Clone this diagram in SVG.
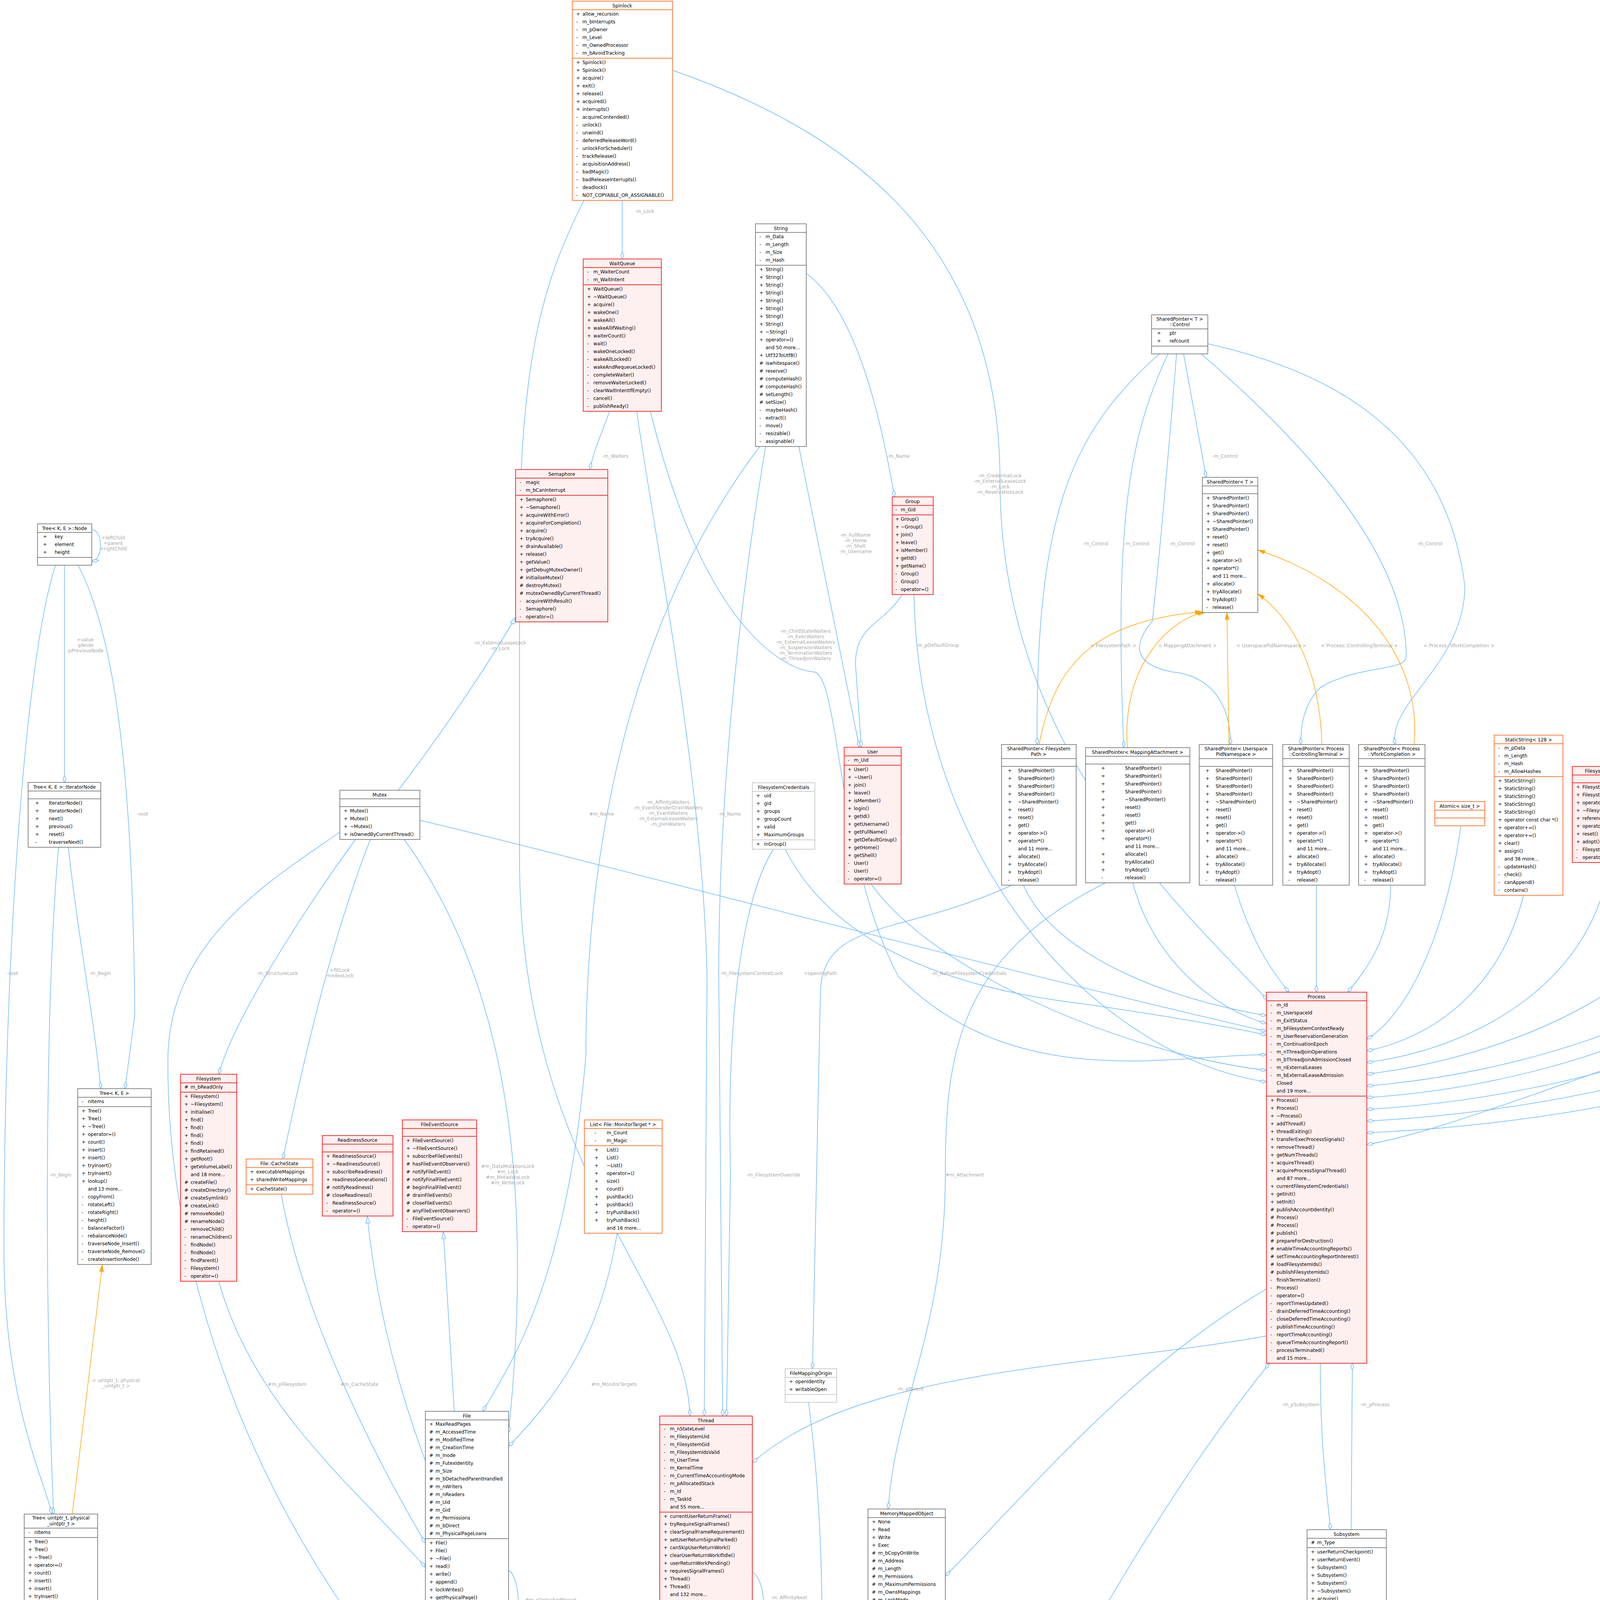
<svg xmlns="http://www.w3.org/2000/svg" width="6348" height="5355" viewBox="0 0 6348 5355">
<style>
text{font-family:"DejaVu Sans","Liberation Sans",sans-serif;font-size:12px;fill:#000}
.c{text-anchor:middle}
.l{fill:#a8a8a8;text-anchor:middle}
.r{fill:#fff;stroke:#666;stroke-width:1.5}
.rl{fill:#fff;stroke:#bdbdbd;stroke-width:1.5}
.ro{fill:#fff;stroke:#ff7f40;stroke-width:2}
.rr{fill:#fff0f0;stroke:#f33;stroke-width:2}
.rg{fill:#999;stroke:#666;stroke-width:1.5}
.e{fill:none;stroke:#63b8ff;stroke-width:1.5}
.ed{fill:none;stroke:#63b8ff;stroke-width:1.5;marker-end:url(#d)}
.et{fill:none;stroke:#63b8ff;stroke-width:1.5;marker-end:url(#t)}
.eo{fill:none;stroke:#ffa500;stroke-width:1.5;marker-end:url(#a)}
</style>
<defs>
<marker id="d" viewBox="0 0 20 10" refX="19" refY="5" markerWidth="20" markerHeight="10" markerUnits="userSpaceOnUse" orient="auto"><path d="M1,5L10,1L19,5L10,9Z" fill="#fff" stroke="#63b8ff" stroke-width="1.5"/></marker>
<marker id="t" viewBox="0 0 20 12" refX="19" refY="6" markerWidth="20" markerHeight="12" markerUnits="userSpaceOnUse" orient="auto"><path d="M1,1L19,6L1,11Z" fill="#fff" stroke="#63b8ff" stroke-width="1.5"/></marker>
<marker id="a" viewBox="0 0 20 12" refX="19" refY="6" markerWidth="20" markerHeight="12" markerUnits="userSpaceOnUse" orient="auto"><path d="M1,1L19,6L1,11Z" fill="#ffa500" stroke="#ffa500"/></marker>
</defs>
<rect width="6348" height="5355" fill="#fff"/>
<g id="connectors">
<path class="ed" d="M1593,513L1593,663"/><text class="l" x="1650" y="545">-m_Lock</text>
<path class="ed" d="M1495,513C1400,700 1330,900 1330,1400L1330,2200C1330,3000 1760,3300 1766,3625"/><text class="l" x="1280" y="1650">-m_ExternalLeaseLock</text><text class="l" x="1280" y="1664">-m_Lock</text>
<path class="ed" d="M1722,180C2150,330 2560,600 2560,1230C2560,1900 3000,2300 3245,2560"/><text class="l" x="2560" y="1222">-m_CredentialLock</text><text class="l" x="2560" y="1236">-m_ExternalLeaseLock</text><text class="l" x="2560" y="1250">-m_Lock</text><text class="l" x="2560" y="1264">-m_ReservationLock</text>
<path class="ed" d="M1560,1053C1545,1100 1520,1150 1510,1202"/><text class="l" x="1575" y="1172">-m_Waiters</text>
<path class="ed" d="M1630,1053C1680,1400 1800,2000 1810,2500L1803,3625"/><text class="l" x="1710" y="2058">-m_AffinityWaiters</text><text class="l" x="1710" y="2072">-m_EventSenderDrainWaiters</text><text class="l" x="1710" y="2086">-m_EventWaiters</text><text class="l" x="1710" y="2100">-m_ExternalLeaseWaiters</text><text class="l" x="1710" y="2114">-m_JoinWaiters</text>
<path class="ed" d="M1665,1053C1800,1600 2000,1710 2080,1720C2150,1710 2140,2200 2300,2500C2600,2800 3000,2700 3242,2700"/><text class="l" x="2062" y="1620">-m_ChildStateWaiters</text><text class="l" x="2062" y="1634">-m_ExecWaiters</text><text class="l" x="2062" y="1648">-m_ExternalLeaseWaiters</text><text class="l" x="2062" y="1662">-m_SuspensionWaiters</text><text class="l" x="2062" y="1676">-m_TerminationWaiters</text><text class="l" x="2062" y="1690">-m_ThreadJoinWaiters</text>
<path class="ed" d="M1960,1143C1900,1500 1840,2000 1840,2500L1850,3625"/><text class="l" x="1868" y="2088">-m_Name</text>
<path class="ed" d="M1945,1143C1600,1600 1500,2200 1500,2700C1450,3300 1300,3500 1236,3613"/><text class="l" x="1540" y="2088">#m_Name</text>
<path class="ed" d="M2045,1143L2200,1913"/><text class="l" x="2190" y="1374">-m_FullName</text><text class="l" x="2190" y="1388">-m_Home</text><text class="l" x="2190" y="1402">-m_Shell</text><text class="l" x="2190" y="1416">-m_Username</text>
<path class="ed" d="M2064,700C2200,800 2260,1100 2290,1272"/><text class="l" x="2300" y="1172">-m_Name</text>
<path class="ed" d="M2310,1522C2260,1600 2190,1600 2190,1700L2205,1913"/><text class="l" x="2400" y="1656">-m_pDefaultGroup</text>
<path class="et" d="M1020,2023C1150,1850 1250,1700 1320,1580"/>
<path class="ed" d="M910,2149C800,2300 600,2600 560,2750"/><text class="l" x="710" y="2496">-m_StructureLock</text>
<path class="ed" d="M948,2149C850,2400 780,2700 724,2967"/><text class="l" x="870" y="2488">+fillLock</text><text class="l" x="870" y="2502">+indexLock</text>
<path class="ed" d="M1035,2149C1250,2450 1380,2900 1302,3668"/><text class="l" x="1300" y="2990">#m_DataMutationLock</text><text class="l" x="1300" y="3004">#m_Lock</text><text class="l" x="1300" y="3018">#m_MetadataLock</text><text class="l" x="1300" y="3032">#m_WriteLock</text>
<path class="ed" d="M870,2130C700,2250 440,2400 430,2700C420,3500 900,4500 1831,4925"/>
<path class="ed" d="M1075,2100C1500,2200 2500,2470 3242,2640"/><text class="l" x="1924" y="2496">-m_FilesystemContextLock</text>
<path class="ed" d="M2010,2174C2100,2350 2300,2500 2700,2560C3000,2600 3200,2640 3242,2650"/><text class="l" x="2480" y="2496">-m_NativeFilesystemCredentials</text>
<path class="ed" d="M1980,2174C1900,2300 1860,2600 1870,3000L1860,3625"/><text class="l" x="1980" y="3012">-m_FilesystemOverride</text>
<path class="ed" d="M2590,2266C2300,2400 2100,2350 2100,2550L2080,3504"/><text class="l" x="2100" y="2496">+openingPath</text>
<path class="ed" d="M2830,2260C2450,2450 2420,2700 2420,3008C2420,3400 2290,3600 2274,3863"/><text class="l" x="2470" y="3012">#m_Attachment</text>
<path class="ed" d="M2070,3590C2110,3900 2120,4300 2072,4670"/><text class="l" x="2130" y="4108">-m_Origin</text>
<path class="ed" d="M1302,4360C1500,4450 1700,4580 1831,4790"/><text class="l" x="1650" y="4632">-m_pBacking</text>
<path class="ed" d="M150,4340C300,4700 1200,4850 1831,4905"/><text class="l" x="330" y="4690">-m_Mappings</text>
<path class="et" d="M2072,4740C2200,4600 2330,4500 2333,4353"/>
<path class="ed" d="M2072,5095C2300,5250 2500,5280 3000,5295L4013,5305"/><text class="l" x="2540" y="5252">+object</text>
<path class="ed" d="M6100,2400C6200,2600 6200,3000 6200,3500L6200,4800C6200,5200 5000,5300 4232,5300"/>
<path class="ed" d="M1926,4023C1962,4050 1966,4150 1926,4182"/><text class="l" x="2020" y="4094">-m_AffinityNext</text><text class="l" x="2020" y="4108">-m_pReadyNext</text><text class="l" x="2020" y="4122">-m_pReadyPrevious</text>
<path class="ed" d="M1926,4330C2050,4500 2200,4650 2305,4850"/><text class="l" x="2135" y="4632">-m_Data</text>
<path class="ed" d="M2452,4835C2700,4300 3000,3800 3250,3490"/><text class="l" x="3185" y="4108">-m_Threads</text>
<path class="ed" d="M3380,3490C3380,3700 3395,3800 3406,3916"/><text class="l" x="3330" y="3600">-m_pSubsystem</text>
<path class="ed" d="M3459,3916L3462,3490"/><text class="l" x="3520" y="3600">-m_pProcess</text>
<path class="ed" d="M3242,3420C2800,3500 2200,3500 1926,3745"/><text class="l" x="2330" y="3560">-m_pParent</text>
<path class="ed" d="M3242,3300C2900,3500 2650,3800 2420,4035"/>
<path class="ed" d="M235,1355C265,1360 265,1432 235,1437"/><text class="l" x="290" y="1381">+leftChild</text><text class="l" x="290" y="1395">+parent</text><text class="l" x="290" y="1409">+rightChild</text>
<path class="ed" d="M165,1447L165,2003"/><text class="l" x="218" y="1642">+value</text><text class="l" x="218" y="1656">-pNode</text><text class="l" x="218" y="1670">-pPreviousNode</text>
<path class="ed" d="M200,1447C280,1600 340,1900 345,2600L320,2787"/><text class="l" x="365" y="2088">-root</text>
<path class="ed" d="M142,1447C60,1700 10,2500 10,3200C10,3600 120,3800 132,3876"/><text class="l" x="32" y="2496">-root</text>
<path class="ed" d="M175,2169C200,2400 240,2600 258,2787"/><text class="l" x="256" y="2496">-m_Begin</text>
<path class="ed" d="M150,2169C120,2500 110,3200 137,3876"/><text class="l" x="155" y="3012">-m_Begin</text>
<path class="eo" d="M185,3876L262,3237"/><text class="l" x="297" y="3538">&lt; uintptr_t, physical</text><text class="l" x="297" y="3552">_uintptr_t &gt;</text>
<path class="ed" d="M560,3280C650,3600 900,3800 1089,4012"/><text class="l" x="735" y="3548">#m_pFilesystem</text>
<path class="ed" d="M720,3057C780,3400 1000,3800 1089,3950"/><text class="l" x="920" y="3548">#m_CacheState</text>
<path class="et" d="M1089,3740C1000,3500 960,3300 940,3113"/>
<path class="et" d="M1163,3613L1135,3153"/>
<path class="ed" d="M1580,3157C1540,3400 1450,3550 1302,3703"/><text class="l" x="1572" y="3548">#m_MonitorTargets</text>
<path class="ed" d="M1302,4020C1335,4040 1335,4170 1302,4183"/><text class="l" x="1410" y="4100">#m_pDetachedParent</text><text class="l" x="1410" y="4114">#m_pParent</text>
<path class="ed" d="M3030,906L3088,1222"/><text class="l" x="3136" y="1172">-m_Control</text>
<path class="ed" d="M2968,906C2750,1100 2650,1300 2655,1906"/><text class="l" x="2805" y="1396">-m_Control</text>
<path class="ed" d="M2990,906C2900,1100 2850,1300 2877,1914"/><text class="l" x="2910" y="1396">-m_Control</text>
<path class="ed" d="M3012,906C2980,1300 2960,1500 2950,1590C2900,1650 2900,1700 3000,1720C3100,1730 3150,1800 3150,1906"/><text class="l" x="3026" y="1396">-m_Control</text>
<path class="ed" d="M3075,906C3300,1100 3600,1400 3600,1680C3600,1720 3480,1700 3380,1760C3340,1800 3330,1850 3330,1906"/>
<path class="ed" d="M3092,880C3400,950 3700,1100 3750,1500C3750,1700 3550,1800 3572,1906"/><text class="l" x="3660" y="1396">-m_Control</text>
<path class="eo" d="M2660,1906C2700,1700 2800,1590 3078,1566"/><text class="l" x="2850" y="1657">&lt; FilesystemPath &gt;</text>
<path class="eo" d="M2886,1914C2870,1700 3000,1580 3085,1568"/><text class="l" x="3040" y="1657">&lt; MappingAttachment &gt;</text>
<path class="eo" d="M3146,1906L3141,1568"/><text class="l" x="3255" y="1657">&lt; UserspacePidNamespace &gt;</text>
<path class="eo" d="M3384,1906C3380,1750 3330,1600 3220,1520"/><text class="l" x="3480" y="1657">&lt; Process::ControllingTerminal &gt;</text>
<path class="eo" d="M3620,1906C3640,1700 3500,1500 3220,1408"/><text class="l" x="3735" y="1657">&lt; Process::VforkCompletion &gt;</text>
<path class="ed" d="M2620,2266C2700,2450 3000,2560 3242,2600"/>
<path class="ed" d="M2900,2260C2950,2450 3100,2580 3242,2620"/>
<path class="ed" d="M3160,2266C3200,2400 3250,2480 3300,2540"/>
<path class="ed" d="M3370,2266C3370,2400 3370,2480 3370,2540"/>
<path class="ed" d="M3560,2266C3560,2400 3500,2480 3450,2540"/>
<path class="ed" d="M3740,2114C3700,2400 3600,2600 3499,2660"/>
<path class="ed" d="M3900,2292C3850,2500 3700,2650 3499,2690"/>
<path class="ed" d="M4120,2208C4080,2500 3800,2680 3499,2720"/>
<path class="ed" d="M4360,2222C4320,2500 3900,2700 3499,2750"/>
<path class="ed" d="M4580,2282C4540,2520 4000,2740 3499,2780"/>
<path class="ed" d="M4770,2113C4700,2500 4100,2770 3499,2810"/>
<path class="ed" d="M4980,2192C4900,2500 4200,2800 3499,2840"/>
<path class="ed" d="M5200,2204C5100,2520 4300,2830 3499,2870"/>
<path class="ed" d="M5420,2158C5300,2540 4400,2860 3499,2900"/>
<path class="ed" d="M5880,2440C5700,2480 5400,2470 5000,2500C4500,2550 3800,2880 3499,2930"/><text class="l" x="5712" y="2478">-m_pAddressSpace</text><text class="l" x="5712" y="2492">-m_pVforkPrivateAddress</text><text class="l" x="5712" y="2506">Space</text>
<path class="ed" d="M2230,2263C2400,2500 2900,2700 3242,2740"/>
<path class="ed" d="M2340,1522C2350,2200 2800,2700 3242,2770"/>
<path class="eo" d="M5870,1955L5877,1517"/><text class="l" x="5830" y="1656">&lt; RawUserMemory::State &gt;</text>
<path class="et" d="M5680,1955C5600,1700 5550,1550 5505,1531"/>
<path class="ed" d="M5985,899L5985,1311"/><text class="l" x="6028" y="1170">-m_Charge</text>
<path class="ed" d="M5985,1481L5987,1722"/><text class="l" x="6075" y="1656">-m_MemoryLockAccount</text>
<path class="ed" d="M6210,1467C6180,1600 6150,1750 6100,1850"/><text class="l" x="6262" y="1656">-m_UserMemoryPolicy</text>
<path class="ed" d="M5750,2215C5800,2400 5850,2650 5860,2837"/><text class="l" x="5850" y="2492">-m_State</text>
<path class="ed" d="M5890,2452C5870,2600 5870,2700 5878,2837"/><text class="l" x="5930" y="2492">-m_Space</text>
<path class="ed" d="M5920,2837C5940,2700 5960,2600 5967,2452"/><text class="l" x="6055" y="2492">-m_RawUserMemory</text>
</g>

<g id="spinlock"><rect class="ro" x="1465" y="3" width="257" height="510"/><text class="c" x="1593" y="19">Spinlock</text><path class="ro" d="M1465 25h257M1465 149h257"/>
<text><tspan x="1475" y="40">+</tspan><tspan x="1475" dy="20">-</tspan><tspan x="1475" dy="20">-</tspan><tspan x="1475" dy="20">-</tspan><tspan x="1475" dy="20">-</tspan><tspan x="1475" dy="20">-</tspan></text>
<text><tspan x="1491" y="40">allow_recursion</tspan><tspan x="1491" dy="20">m_bInterrupts</tspan><tspan x="1491" dy="20">m_pOwner</tspan><tspan x="1491" dy="20">m_Level</tspan><tspan x="1491" dy="20">m_OwnedProcessor</tspan><tspan x="1491" dy="20">m_bAvoidTracking</tspan></text>
<text><tspan x="1475" y="164">+</tspan><tspan x="1475" dy="20">+</tspan><tspan x="1475" dy="20">+</tspan><tspan x="1475" dy="20">+</tspan><tspan x="1475" dy="20">+</tspan><tspan x="1475" dy="20">+</tspan><tspan x="1475" dy="20">+</tspan><tspan x="1475" dy="20">-</tspan><tspan x="1475" dy="20">-</tspan><tspan x="1475" dy="20">-</tspan><tspan x="1475" dy="20">-</tspan><tspan x="1475" dy="20">-</tspan><tspan x="1475" dy="20">-</tspan><tspan x="1475" dy="20">-</tspan><tspan x="1475" dy="20">-</tspan><tspan x="1475" dy="20">-</tspan><tspan x="1475" dy="20">-</tspan><tspan x="1475" dy="20">-</tspan></text>
<text><tspan x="1491" y="164">Spinlock()</tspan><tspan x="1491" dy="20">Spinlock()</tspan><tspan x="1491" dy="20">acquire()</tspan><tspan x="1491" dy="20">exit()</tspan><tspan x="1491" dy="20">release()</tspan><tspan x="1491" dy="20">acquired()</tspan><tspan x="1491" dy="20">interrupts()</tspan><tspan x="1491" dy="20">acquireContended()</tspan><tspan x="1491" dy="20">unlock()</tspan><tspan x="1491" dy="20">unwind()</tspan><tspan x="1491" dy="20">deferredReleaseWord()</tspan><tspan x="1491" dy="20">unlockForScheduler()</tspan><tspan x="1491" dy="20">trackRelease()</tspan><tspan x="1491" dy="20">acquisitionAddress()</tspan><tspan x="1491" dy="20">badMagic()</tspan><tspan x="1491" dy="20">badReleaseInterrupts()</tspan><tspan x="1491" dy="20">deadlock()</tspan><tspan x="1491" dy="20">NOT_COPYABLE_OR_ASSIGNABLE()</tspan></text></g>

<g id="waitqueue"><rect class="rr" x="1493" y="663" width="200" height="390"/><text class="c" x="1593" y="679">WaitQueue</text><path class="rr" d="M1493 685h200M1493 729h200"/>
<text><tspan x="1503" y="700">-</tspan><tspan x="1503" dy="20">-</tspan></text><text><tspan x="1519" y="700">m_WaiterCount</tspan><tspan x="1519" dy="20">m_WaitIntent</tspan></text>
<text><tspan x="1503" y="744">+</tspan><tspan x="1503" dy="20">+</tspan><tspan x="1503" dy="20">+</tspan><tspan x="1503" dy="20">+</tspan><tspan x="1503" dy="20">+</tspan><tspan x="1503" dy="20">+</tspan><tspan x="1503" dy="20">+</tspan><tspan x="1503" dy="20">-</tspan><tspan x="1503" dy="20">-</tspan><tspan x="1503" dy="20">-</tspan><tspan x="1503" dy="20">-</tspan><tspan x="1503" dy="20">-</tspan><tspan x="1503" dy="20">-</tspan><tspan x="1503" dy="20">-</tspan><tspan x="1503" dy="20">-</tspan><tspan x="1503" dy="20">-</tspan></text>
<text><tspan x="1519" y="744">WaitQueue()</tspan><tspan x="1519" dy="20">~WaitQueue()</tspan><tspan x="1519" dy="20">acquire()</tspan><tspan x="1519" dy="20">wakeOne()</tspan><tspan x="1519" dy="20">wakeAll()</tspan><tspan x="1519" dy="20">wakeAllIfWaiting()</tspan><tspan x="1519" dy="20">waiterCount()</tspan><tspan x="1519" dy="20">wait()</tspan><tspan x="1519" dy="20">wakeOneLocked()</tspan><tspan x="1519" dy="20">wakeAllLocked()</tspan><tspan x="1519" dy="20">wakeAndRequeueLocked()</tspan><tspan x="1519" dy="20">completeWaiter()</tspan><tspan x="1519" dy="20">removeWaiterLocked()</tspan><tspan x="1519" dy="20">clearWaitIntentIfEmpty()</tspan><tspan x="1519" dy="20">cancel()</tspan><tspan x="1519" dy="20">publishReady()</tspan></text></g>

<g id="string"><rect class="r" x="1934" y="573" width="130" height="570"/><text class="c" x="1999" y="589">String</text><path class="r" d="M1934 595h130M1934 679h130"/>
<text><tspan x="1944" y="610">-</tspan><tspan x="1944" dy="20">-</tspan><tspan x="1944" dy="20">-</tspan><tspan x="1944" dy="20">-</tspan></text><text><tspan x="1960" y="610">m_Data</tspan><tspan x="1960" dy="20">m_Length</tspan><tspan x="1960" dy="20">m_Size</tspan><tspan x="1960" dy="20">m_Hash</tspan></text>
<text><tspan x="1944" y="694">+</tspan><tspan x="1944" dy="20">+</tspan><tspan x="1944" dy="20">+</tspan><tspan x="1944" dy="20">+</tspan><tspan x="1944" dy="20">+</tspan><tspan x="1944" dy="20">+</tspan><tspan x="1944" dy="20">+</tspan><tspan x="1944" dy="20">+</tspan><tspan x="1944" dy="20">+</tspan><tspan x="1944" dy="20">+</tspan><tspan x="1944" dy="20"> </tspan><tspan x="1944" dy="20">+</tspan><tspan x="1944" dy="20">#</tspan><tspan x="1944" dy="20">#</tspan><tspan x="1944" dy="20">#</tspan><tspan x="1944" dy="20">#</tspan><tspan x="1944" dy="20">#</tspan><tspan x="1944" dy="20">#</tspan><tspan x="1944" dy="20">-</tspan><tspan x="1944" dy="20">-</tspan><tspan x="1944" dy="20">-</tspan><tspan x="1944" dy="20">-</tspan><tspan x="1944" dy="20">-</tspan></text>
<text><tspan x="1960" y="694">String()</tspan><tspan x="1960" dy="20">String()</tspan><tspan x="1960" dy="20">String()</tspan><tspan x="1960" dy="20">String()</tspan><tspan x="1960" dy="20">String()</tspan><tspan x="1960" dy="20">String()</tspan><tspan x="1960" dy="20">String()</tspan><tspan x="1960" dy="20">String()</tspan><tspan x="1960" dy="20">~String()</tspan><tspan x="1960" dy="20">operator=()</tspan><tspan x="1960" dy="20">and 50 more...</tspan><tspan x="1960" dy="20">Utf32ToUtf8()</tspan><tspan x="1960" dy="20">iswhitespace()</tspan><tspan x="1960" dy="20">reserve()</tspan><tspan x="1960" dy="20">computeHash()</tspan><tspan x="1960" dy="20">computeHash()</tspan><tspan x="1960" dy="20">setLength()</tspan><tspan x="1960" dy="20">setSize()</tspan><tspan x="1960" dy="20">maybeHash()</tspan><tspan x="1960" dy="20">extract()</tspan><tspan x="1960" dy="20">move()</tspan><tspan x="1960" dy="20">resizable()</tspan><tspan x="1960" dy="20">assignable()</tspan></text></g>

<g id="semaphore"><rect class="rr" x="1320" y="1202" width="236" height="390"/><text class="c" x="1438" y="1218">Semaphore</text><path class="rr" d="M1320 1224h236M1320 1268h236"/>
<text><tspan x="1330" y="1239">-</tspan><tspan x="1330" dy="20">-</tspan></text><text><tspan x="1346" y="1239">magic</tspan><tspan x="1346" dy="20">m_bCanInterrupt</tspan></text>
<text><tspan x="1330" y="1283">+</tspan><tspan x="1330" dy="20">+</tspan><tspan x="1330" dy="20">+</tspan><tspan x="1330" dy="20">+</tspan><tspan x="1330" dy="20">+</tspan><tspan x="1330" dy="20">+</tspan><tspan x="1330" dy="20">+</tspan><tspan x="1330" dy="20">+</tspan><tspan x="1330" dy="20">+</tspan><tspan x="1330" dy="20">+</tspan><tspan x="1330" dy="20">#</tspan><tspan x="1330" dy="20">#</tspan><tspan x="1330" dy="20">#</tspan><tspan x="1330" dy="20">-</tspan><tspan x="1330" dy="20">-</tspan><tspan x="1330" dy="20">-</tspan></text>
<text><tspan x="1346" y="1283">Semaphore()</tspan><tspan x="1346" dy="20">~Semaphore()</tspan><tspan x="1346" dy="20">acquireWithError()</tspan><tspan x="1346" dy="20">acquireForCompletion()</tspan><tspan x="1346" dy="20">acquire()</tspan><tspan x="1346" dy="20">tryAcquire()</tspan><tspan x="1346" dy="20">drainAvailable()</tspan><tspan x="1346" dy="20">release()</tspan><tspan x="1346" dy="20">getValue()</tspan><tspan x="1346" dy="20">getDebugMutexOwner()</tspan><tspan x="1346" dy="20">initialiseMutex()</tspan><tspan x="1346" dy="20">destroyMutex()</tspan><tspan x="1346" dy="20">mutexOwnedByCurrentThread()</tspan><tspan x="1346" dy="20">acquireWithResult()</tspan><tspan x="1346" dy="20">Semaphore()</tspan><tspan x="1346" dy="20">operator=()</tspan></text></g>

<g id="mutex"><rect class="r" x="870" y="2023" width="205" height="126"/><text class="c" x="972" y="2039">Mutex</text><path class="r" d="M870 2045h205M870 2065h205"/>
<text><tspan x="880" y="2080">+</tspan><tspan x="880" dy="20">+</tspan><tspan x="880" dy="20">+</tspan><tspan x="880" dy="20">+</tspan></text><text><tspan x="896" y="2080">Mutex()</tspan><tspan x="896" dy="20">Mutex()</tspan><tspan x="896" dy="20">~Mutex()</tspan><tspan x="896" dy="20">isOwnedByCurrentThread()</tspan></text></g>

<g id="treenode"><rect class="r" x="96" y="1341" width="139" height="106"/><text class="c" x="165" y="1357">Tree&lt; K, E &gt;::Node</text><path class="r" d="M96 1363h139M96 1427h139"/>
<text><tspan x="110" y="1378">+</tspan><tspan x="110" dy="20">+</tspan><tspan x="110" dy="20">+</tspan></text><text><tspan x="140" y="1378">key</tspan><tspan x="140" dy="20">element</tspan><tspan x="140" dy="20">height</tspan></text></g>

<g id="iteratornode"><rect class="r" x="72" y="2003" width="186" height="166"/><text class="c" x="165" y="2019">Tree&lt; K, E &gt;::IteratorNode</text><path class="r" d="M72 2025h186M72 2045h186"/>
<text><tspan x="90" y="2060">+</tspan><tspan x="90" dy="20">+</tspan><tspan x="90" dy="20">+</tspan><tspan x="90" dy="20">+</tspan><tspan x="90" dy="20">+</tspan><tspan x="90" dy="20">-</tspan></text><text><tspan x="125" y="2060">IteratorNode()</tspan><tspan x="125" dy="20">IteratorNode()</tspan><tspan x="125" dy="20">next()</tspan><tspan x="125" dy="20">previous()</tspan><tspan x="125" dy="20">reset()</tspan><tspan x="125" dy="20">traverseNext()</tspan></text></g>

<g id="tree"><rect class="r" x="199" y="2787" width="188" height="450"/><text class="c" x="293" y="2803">Tree&lt; K, E &gt;</text><path class="r" d="M199 2809h188M199 2833h188"/>
<text x="209" y="2824">-</text><text x="225" y="2824">nItems</text>
<text><tspan x="209" y="2848">+</tspan><tspan x="209" dy="20">+</tspan><tspan x="209" dy="20">+</tspan><tspan x="209" dy="20">+</tspan><tspan x="209" dy="20">+</tspan><tspan x="209" dy="20">+</tspan><tspan x="209" dy="20">+</tspan><tspan x="209" dy="20">+</tspan><tspan x="209" dy="20">+</tspan><tspan x="209" dy="20">+</tspan><tspan x="209" dy="20"> </tspan><tspan x="209" dy="20">-</tspan><tspan x="209" dy="20">-</tspan><tspan x="209" dy="20">-</tspan><tspan x="209" dy="20">-</tspan><tspan x="209" dy="20">-</tspan><tspan x="209" dy="20">-</tspan><tspan x="209" dy="20">-</tspan><tspan x="209" dy="20">-</tspan><tspan x="209" dy="20">-</tspan></text>
<text><tspan x="225" y="2848">Tree()</tspan><tspan x="225" dy="20">Tree()</tspan><tspan x="225" dy="20">~Tree()</tspan><tspan x="225" dy="20">operator=()</tspan><tspan x="225" dy="20">count()</tspan><tspan x="225" dy="20">insert()</tspan><tspan x="225" dy="20">insert()</tspan><tspan x="225" dy="20">tryInsert()</tspan><tspan x="225" dy="20">tryInsert()</tspan><tspan x="225" dy="20">lookup()</tspan><tspan x="225" dy="20">and 13 more...</tspan><tspan x="225" dy="20">copyFrom()</tspan><tspan x="225" dy="20">rotateLeft()</tspan><tspan x="225" dy="20">rotateRight()</tspan><tspan x="225" dy="20">height()</tspan><tspan x="225" dy="20">balanceFactor()</tspan><tspan x="225" dy="20">rebalanceNode()</tspan><tspan x="225" dy="20">traverseNode_Insert()</tspan><tspan x="225" dy="20">traverseNode_Remove()</tspan><tspan x="225" dy="20">createInsertionNode()</tspan></text></g>

<g id="treeuintptr"><rect class="r" x="62" y="3876" width="188" height="464"/><text class="c" x="156" y="3890">Tree&lt; uintptr_t, physical</text><text class="c" x="156" y="3905">_uintptr_t &gt;</text><path class="r" d="M62 3912h188M62 3936h188"/>
<text x="72" y="3927">-</text><text x="88" y="3927">nItems</text>
<text><tspan x="72" y="3951">+</tspan><tspan x="72" dy="20">+</tspan><tspan x="72" dy="20">+</tspan><tspan x="72" dy="20">+</tspan><tspan x="72" dy="20">+</tspan><tspan x="72" dy="20">+</tspan><tspan x="72" dy="20">+</tspan><tspan x="72" dy="20">+</tspan><tspan x="72" dy="20">+</tspan><tspan x="72" dy="20">+</tspan><tspan x="72" dy="20"> </tspan><tspan x="72" dy="20">-</tspan><tspan x="72" dy="20">-</tspan><tspan x="72" dy="20">-</tspan><tspan x="72" dy="20">-</tspan><tspan x="72" dy="20">-</tspan><tspan x="72" dy="20">-</tspan><tspan x="72" dy="20">-</tspan><tspan x="72" dy="20">-</tspan><tspan x="72" dy="20">-</tspan></text>
<text><tspan x="88" y="3951">Tree()</tspan><tspan x="88" dy="20">Tree()</tspan><tspan x="88" dy="20">~Tree()</tspan><tspan x="88" dy="20">operator=()</tspan><tspan x="88" dy="20">count()</tspan><tspan x="88" dy="20">insert()</tspan><tspan x="88" dy="20">insert()</tspan><tspan x="88" dy="20">tryInsert()</tspan><tspan x="88" dy="20">tryInsert()</tspan><tspan x="88" dy="20">lookup()</tspan><tspan x="88" dy="20">and 13 more...</tspan><tspan x="88" dy="20">copyFrom()</tspan><tspan x="88" dy="20">rotateLeft()</tspan><tspan x="88" dy="20">rotateRight()</tspan><tspan x="88" dy="20">height()</tspan><tspan x="88" dy="20">balanceFactor()</tspan><tspan x="88" dy="20">rebalanceNode()</tspan><tspan x="88" dy="20">traverseNode_Insert()</tspan><tspan x="88" dy="20">traverseNode_Remove()</tspan><tspan x="88" dy="20">createInsertionNode()</tspan></text></g>

<g id="filesystem"><rect class="rr" x="462" y="2750" width="144" height="530"/><text class="c" x="534" y="2766">Filesystem</text><path class="rr" d="M462 2772h144M462 2796h144"/>
<text x="472" y="2787">#</text><text x="488" y="2787">m_bReadOnly</text>
<text><tspan x="472" y="2811">+</tspan><tspan x="472" dy="20">+</tspan><tspan x="472" dy="20">+</tspan><tspan x="472" dy="20">+</tspan><tspan x="472" dy="20">+</tspan><tspan x="472" dy="20">+</tspan><tspan x="472" dy="20">+</tspan><tspan x="472" dy="20">+</tspan><tspan x="472" dy="20">+</tspan><tspan x="472" dy="20">+</tspan><tspan x="472" dy="20"> </tspan><tspan x="472" dy="20">#</tspan><tspan x="472" dy="20">#</tspan><tspan x="472" dy="20">#</tspan><tspan x="472" dy="20">#</tspan><tspan x="472" dy="20">#</tspan><tspan x="472" dy="20">#</tspan><tspan x="472" dy="20">-</tspan><tspan x="472" dy="20">-</tspan><tspan x="472" dy="20">-</tspan><tspan x="472" dy="20">-</tspan><tspan x="472" dy="20">-</tspan><tspan x="472" dy="20">-</tspan><tspan x="472" dy="20">-</tspan></text>
<text><tspan x="488" y="2811">Filesystem()</tspan><tspan x="488" dy="20">~Filesystem()</tspan><tspan x="488" dy="20">initialise()</tspan><tspan x="488" dy="20">find()</tspan><tspan x="488" dy="20">find()</tspan><tspan x="488" dy="20">find()</tspan><tspan x="488" dy="20">find()</tspan><tspan x="488" dy="20">findRetained()</tspan><tspan x="488" dy="20">getRoot()</tspan><tspan x="488" dy="20">getVolumeLabel()</tspan><tspan x="488" dy="20">and 18 more...</tspan><tspan x="488" dy="20">createFile()</tspan><tspan x="488" dy="20">createDirectory()</tspan><tspan x="488" dy="20">createSymlink()</tspan><tspan x="488" dy="20">createLink()</tspan><tspan x="488" dy="20">removeNode()</tspan><tspan x="488" dy="20">renameNode()</tspan><tspan x="488" dy="20">removeChild()</tspan><tspan x="488" dy="20">renameChildren()</tspan><tspan x="488" dy="20">findNode()</tspan><tspan x="488" dy="20">findNode()</tspan><tspan x="488" dy="20">findParent()</tspan><tspan x="488" dy="20">Filesystem()</tspan><tspan x="488" dy="20">operator=()</tspan></text></g>

<g id="cachestate"><rect class="ro" x="630" y="2967" width="171" height="90"/><text class="c" x="715" y="2983">File::CacheState</text><path class="ro" d="M630 2989h171M630 3033h171"/>
<text><tspan x="640" y="3004">+</tspan><tspan x="640" dy="20">+</tspan></text><text><tspan x="656" y="3004">executableMappings</tspan><tspan x="656" dy="20">sharedWriteMappings</tspan></text>
<text x="640" y="3048">+</text><text x="656" y="3048">CacheState()</text></g>

<g id="readinesssource"><rect class="rr" x="825" y="2907" width="181" height="206"/><text class="c" x="915" y="2923">ReadinessSource</text><path class="rr" d="M825 2929h181M825 2949h181"/>
<text><tspan x="835" y="2964">+</tspan><tspan x="835" dy="20">+</tspan><tspan x="835" dy="20">+</tspan><tspan x="835" dy="20">+</tspan><tspan x="835" dy="20">#</tspan><tspan x="835" dy="20">#</tspan><tspan x="835" dy="20">-</tspan><tspan x="835" dy="20">-</tspan></text>
<text><tspan x="851" y="2964">ReadinessSource()</tspan><tspan x="851" dy="20">~ReadinessSource()</tspan><tspan x="851" dy="20">subscribeReadiness()</tspan><tspan x="851" dy="20">readinessGenerations()</tspan><tspan x="851" dy="20">notifyReadiness()</tspan><tspan x="851" dy="20">closeReadiness()</tspan><tspan x="851" dy="20">ReadinessSource()</tspan><tspan x="851" dy="20">operator=()</tspan></text></g>

<g id="fileeventsource"><rect class="rr" x="1030" y="2867" width="190" height="286"/><text class="c" x="1125" y="2883">FileEventSource</text><path class="rr" d="M1030 2889h190M1030 2909h190"/>
<text><tspan x="1040" y="2924">+</tspan><tspan x="1040" dy="20">+</tspan><tspan x="1040" dy="20">+</tspan><tspan x="1040" dy="20">#</tspan><tspan x="1040" dy="20">#</tspan><tspan x="1040" dy="20">#</tspan><tspan x="1040" dy="20">#</tspan><tspan x="1040" dy="20">#</tspan><tspan x="1040" dy="20">#</tspan><tspan x="1040" dy="20">#</tspan><tspan x="1040" dy="20">-</tspan><tspan x="1040" dy="20">-</tspan></text>
<text><tspan x="1056" y="2924">FileEventSource()</tspan><tspan x="1056" dy="20">~FileEventSource()</tspan><tspan x="1056" dy="20">subscribeFileEvents()</tspan><tspan x="1056" dy="20">hasFileEventObservers()</tspan><tspan x="1056" dy="20">notifyFileEvent()</tspan><tspan x="1056" dy="20">notifyFinalFileEvent()</tspan><tspan x="1056" dy="20">beginFinalFileEvent()</tspan><tspan x="1056" dy="20">drainFileEvents()</tspan><tspan x="1056" dy="20">closeFileEvents()</tspan><tspan x="1056" dy="20">anyFileEventObservers()</tspan><tspan x="1056" dy="20">FileEventSource()</tspan><tspan x="1056" dy="20">operator=()</tspan></text></g>

<g id="list"><rect class="ro" x="1496" y="2867" width="199" height="290"/><text class="c" x="1595" y="2883">List&lt; File::MonitorTarget * &gt;</text><path class="ro" d="M1496 2889h199M1496 2933h199"/>
<text><tspan x="1522" y="2904">-</tspan><tspan x="1522" dy="20">-</tspan></text><text><tspan x="1553" y="2904">m_Count</tspan><tspan x="1553" dy="20">m_Magic</tspan></text>
<text><tspan x="1522" y="2948">+</tspan><tspan x="1522" dy="20">+</tspan><tspan x="1522" dy="20">+</tspan><tspan x="1522" dy="20">+</tspan><tspan x="1522" dy="20">+</tspan><tspan x="1522" dy="20">+</tspan><tspan x="1522" dy="20">+</tspan><tspan x="1522" dy="20">+</tspan><tspan x="1522" dy="20">+</tspan><tspan x="1522" dy="20">+</tspan></text>
<text><tspan x="1553" y="2948">List()</tspan><tspan x="1553" dy="20">List()</tspan><tspan x="1553" dy="20">~List()</tspan><tspan x="1553" dy="20">operator=()</tspan><tspan x="1553" dy="20">size()</tspan><tspan x="1553" dy="20">count()</tspan><tspan x="1553" dy="20">pushBack()</tspan><tspan x="1553" dy="20">pushBack()</tspan><tspan x="1553" dy="20">tryPushBack()</tspan><tspan x="1553" dy="20">tryPushBack()</tspan><tspan x="1553" dy="20">and 16 more...</tspan></text></g>

<g id="file"><rect class="r" x="1089" y="3613" width="213" height="990"/><text class="c" x="1195" y="3629">File</text><path class="r" d="M1089 3635h213M1089 3939h213"/>
<text><tspan x="1099" y="3650">+</tspan><tspan x="1099" dy="20">#</tspan><tspan x="1099" dy="20">#</tspan><tspan x="1099" dy="20">#</tspan><tspan x="1099" dy="20">#</tspan><tspan x="1099" dy="20">#</tspan><tspan x="1099" dy="20">#</tspan><tspan x="1099" dy="20">#</tspan><tspan x="1099" dy="20">#</tspan><tspan x="1099" dy="20">#</tspan><tspan x="1099" dy="20">#</tspan><tspan x="1099" dy="20">#</tspan><tspan x="1099" dy="20">#</tspan><tspan x="1099" dy="20">#</tspan><tspan x="1099" dy="20">#</tspan></text>
<text><tspan x="1115" y="3650">MaxReadPages</tspan><tspan x="1115" dy="20">m_AccessedTime</tspan><tspan x="1115" dy="20">m_ModifiedTime</tspan><tspan x="1115" dy="20">m_CreationTime</tspan><tspan x="1115" dy="20">m_Inode</tspan><tspan x="1115" dy="20">m_FutexIdentity</tspan><tspan x="1115" dy="20">m_Size</tspan><tspan x="1115" dy="20">m_bDetachedParentHandled</tspan><tspan x="1115" dy="20">m_nWriters</tspan><tspan x="1115" dy="20">m_nReaders</tspan><tspan x="1115" dy="20">m_Uid</tspan><tspan x="1115" dy="20">m_Gid</tspan><tspan x="1115" dy="20">m_Permissions</tspan><tspan x="1115" dy="20">m_bDirect</tspan><tspan x="1115" dy="20">m_PhysicalPageLoans</tspan></text>
<text><tspan x="1099" y="3954">+</tspan><tspan x="1099" dy="20">+</tspan><tspan x="1099" dy="20">+</tspan><tspan x="1099" dy="20">+</tspan><tspan x="1099" dy="20">+</tspan><tspan x="1099" dy="20">+</tspan><tspan x="1099" dy="20">+</tspan><tspan x="1099" dy="20">+</tspan><tspan x="1099" dy="20">+</tspan><tspan x="1099" dy="20">+</tspan><tspan x="1099" dy="20"> </tspan><tspan x="1099" dy="20">#</tspan><tspan x="1099" dy="20">#</tspan><tspan x="1099" dy="20">#</tspan><tspan x="1099" dy="20">#</tspan><tspan x="1099" dy="20">#</tspan><tspan x="1099" dy="20">#</tspan><tspan x="1099" dy="20">#</tspan><tspan x="1099" dy="20">#</tspan><tspan x="1099" dy="20">#</tspan><tspan x="1099" dy="20">#</tspan><tspan x="1099" dy="20"> </tspan><tspan x="1099" dy="20">#</tspan><tspan x="1099" dy="20">#</tspan><tspan x="1099" dy="20">-</tspan><tspan x="1099" dy="20">-</tspan><tspan x="1099" dy="20">-</tspan><tspan x="1099" dy="20">-</tspan><tspan x="1099" dy="20">-</tspan><tspan x="1099" dy="20">-</tspan><tspan x="1099" dy="20">-</tspan><tspan x="1099" dy="20">-</tspan><tspan x="1099" dy="20">-</tspan></text>
<text><tspan x="1115" y="3954">File()</tspan><tspan x="1115" dy="20">File()</tspan><tspan x="1115" dy="20">~File()</tspan><tspan x="1115" dy="20">read()</tspan><tspan x="1115" dy="20">write()</tspan><tspan x="1115" dy="20">append()</tspan><tspan x="1115" dy="20">lockWrites()</tspan><tspan x="1115" dy="20">getPhysicalPage()</tspan><tspan x="1115" dy="20">isDirectPhysicalMapping()</tspan><tspan x="1115" dy="20">returnPhysicalPage()</tspan><tspan x="1115" dy="20">and 80 more...</tspan><tspan x="1115" dy="20">updateAttributes()</tspan><tspan x="1115" dy="20">changeOwnership()</tspan><tspan x="1115" dy="20">allowPhysicalPage()</tspan><tspan x="1115" dy="20">prepareWrite()</tspan><tspan x="1115" dy="20">allowResize()</tspan><tspan x="1115" dy="20">prepareShrink()</tspan><tspan x="1115" dy="20">resizeFile()</tspan><tspan x="1115" dy="20">allocateFileRange()</tspan><tspan x="1115" dy="20">writeSerializationLock()</tspan><tspan x="1115" dy="20">dataMutationLock()</tspan><tspan x="1115" dy="20">and 30 more...</tspan><tspan x="1115" dy="20">writeCallback()</tspan><tspan x="1115" dy="20">fillCacheCallback()</tspan><tspan x="1115" dy="20">File()</tspan><tspan x="1115" dy="20">operator=()</tspan><tspan x="1115" dy="20">publishWriteMetadata()</tspan><tspan x="1115" dy="20">writeUnlocked()</tspan><tspan x="1115" dy="20">getCachedPage()</tspan><tspan x="1115" dy="20">setCachedPage()</tspan><tspan x="1115" dy="20">readIntoCache()</tspan><tspan x="1115" dy="20">populateRangeLocked()</tspan><tspan x="1115" dy="20">releaseReadReference()</tspan></text></g>

<g id="fscredentials"><rect class="rl" x="1926" y="2004" width="160" height="170"/><text class="c" x="2006" y="2020">FilesystemCredentials</text><path class="rl" d="M1926 2026h160M1926 2150h160"/>
<text><tspan x="1936" y="2041">+</tspan><tspan x="1936" dy="20">+</tspan><tspan x="1936" dy="20">+</tspan><tspan x="1936" dy="20">+</tspan><tspan x="1936" dy="20">+</tspan><tspan x="1936" dy="20">+</tspan></text><text><tspan x="1956" y="2041">uid</tspan><tspan x="1956" dy="20">gid</tspan><tspan x="1956" dy="20">groups</tspan><tspan x="1956" dy="20">groupCount</tspan><tspan x="1956" dy="20">valid</tspan><tspan x="1956" dy="20">MaximumGroups</tspan></text>
<text x="1936" y="2165">+</text><text x="1956" y="2165">inGroup()</text></g>

<g id="group"><rect class="rr" x="2284" y="1272" width="105" height="250"/><text class="c" x="2336" y="1288">Group</text><path class="rr" d="M2284 1294h105M2284 1318h105"/>
<text x="2292" y="1309">-</text><text x="2306" y="1309">m_Gid</text>
<text><tspan x="2292" y="1333">+</tspan><tspan x="2292" dy="20">+</tspan><tspan x="2292" dy="20">+</tspan><tspan x="2292" dy="20">+</tspan><tspan x="2292" dy="20">+</tspan><tspan x="2292" dy="20">+</tspan><tspan x="2292" dy="20">+</tspan><tspan x="2292" dy="20">-</tspan><tspan x="2292" dy="20">-</tspan><tspan x="2292" dy="20">-</tspan></text>
<text><tspan x="2306" y="1333">Group()</tspan><tspan x="2306" dy="20">~Group()</tspan><tspan x="2306" dy="20">join()</tspan><tspan x="2306" dy="20">leave()</tspan><tspan x="2306" dy="20">isMember()</tspan><tspan x="2306" dy="20">getId()</tspan><tspan x="2306" dy="20">getName()</tspan><tspan x="2306" dy="20">Group()</tspan><tspan x="2306" dy="20">Group()</tspan><tspan x="2306" dy="20">operator=()</tspan></text></g>

<g id="user"><rect class="rr" x="2161" y="1913" width="146" height="350"/><text class="c" x="2234" y="1929">User</text><path class="rr" d="M2161 1935h146M2161 1959h146"/>
<text x="2170" y="1950">-</text><text x="2186" y="1950">m_Uid</text>
<text><tspan x="2170" y="1974">+</tspan><tspan x="2170" dy="20">+</tspan><tspan x="2170" dy="20">+</tspan><tspan x="2170" dy="20">+</tspan><tspan x="2170" dy="20">+</tspan><tspan x="2170" dy="20">+</tspan><tspan x="2170" dy="20">+</tspan><tspan x="2170" dy="20">+</tspan><tspan x="2170" dy="20">+</tspan><tspan x="2170" dy="20">+</tspan><tspan x="2170" dy="20">+</tspan><tspan x="2170" dy="20">+</tspan><tspan x="2170" dy="20">-</tspan><tspan x="2170" dy="20">-</tspan><tspan x="2170" dy="20">-</tspan></text>
<text><tspan x="2186" y="1974">User()</tspan><tspan x="2186" dy="20">~User()</tspan><tspan x="2186" dy="20">join()</tspan><tspan x="2186" dy="20">leave()</tspan><tspan x="2186" dy="20">isMember()</tspan><tspan x="2186" dy="20">login()</tspan><tspan x="2186" dy="20">getId()</tspan><tspan x="2186" dy="20">getUsername()</tspan><tspan x="2186" dy="20">getFullName()</tspan><tspan x="2186" dy="20">getDefaultGroup()</tspan><tspan x="2186" dy="20">getHome()</tspan><tspan x="2186" dy="20">getShell()</tspan><tspan x="2186" dy="20">User()</tspan><tspan x="2186" dy="20">User()</tspan><tspan x="2186" dy="20">operator=()</tspan></text></g>

<g id="filemappingorigin"><rect class="rl" x="2010" y="3504" width="132" height="86"/><text class="c" x="2076" y="3520">FileMappingOrigin</text><path class="rl" d="M2010 3526h132M2010 3570h132"/>
<text><tspan x="2020" y="3541">+</tspan><tspan x="2020" dy="20">+</tspan></text><text><tspan x="2036" y="3541">openIdentity</tspan><tspan x="2036" dy="20">writableOpen</tspan></text></g>

<g id="thread"><rect class="rr" x="1689" y="3625" width="237" height="970"/><text class="c" x="1807" y="3641">Thread</text><path class="rr" d="M1689 3647h237M1689 3871h237"/>
<text><tspan x="1699" y="3662">-</tspan><tspan x="1699" dy="20">-</tspan><tspan x="1699" dy="20">-</tspan><tspan x="1699" dy="20">-</tspan><tspan x="1699" dy="20">-</tspan><tspan x="1699" dy="20">-</tspan><tspan x="1699" dy="20">-</tspan><tspan x="1699" dy="20">-</tspan><tspan x="1699" dy="20">-</tspan><tspan x="1699" dy="20">-</tspan></text>
<text><tspan x="1715" y="3662">m_nStateLevel</tspan><tspan x="1715" dy="20">m_FilesystemUid</tspan><tspan x="1715" dy="20">m_FilesystemGid</tspan><tspan x="1715" dy="20">m_FilesystemIdsValid</tspan><tspan x="1715" dy="20">m_UserTime</tspan><tspan x="1715" dy="20">m_KernelTime</tspan><tspan x="1715" dy="20">m_CurrentTimeAccountingMode</tspan><tspan x="1715" dy="20">m_pAllocatedStack</tspan><tspan x="1715" dy="20">m_Id</tspan><tspan x="1715" dy="20">m_TaskId</tspan><tspan x="1715" dy="20">and 55 more...</tspan></text>
<text><tspan x="1699" y="3886">+</tspan><tspan x="1699" dy="20">+</tspan><tspan x="1699" dy="20">+</tspan><tspan x="1699" dy="20">+</tspan><tspan x="1699" dy="20">+</tspan><tspan x="1699" dy="20">+</tspan><tspan x="1699" dy="20">+</tspan><tspan x="1699" dy="20">+</tspan><tspan x="1699" dy="20">+</tspan><tspan x="1699" dy="20">+</tspan><tspan x="1699" dy="20"> </tspan><tspan x="1699" dy="20">+</tspan><tspan x="1699" dy="20">#</tspan><tspan x="1699" dy="20">#</tspan><tspan x="1699" dy="20">#</tspan><tspan x="1699" dy="20">#</tspan><tspan x="1699" dy="20">#</tspan><tspan x="1699" dy="20">#</tspan><tspan x="1699" dy="20">#</tspan><tspan x="1699" dy="20">#</tspan><tspan x="1699" dy="20">#</tspan><tspan x="1699" dy="20">#</tspan><tspan x="1699" dy="20"> </tspan><tspan x="1699" dy="20">-</tspan><tspan x="1699" dy="20"> </tspan><tspan x="1699" dy="20">-</tspan><tspan x="1699" dy="20">-</tspan><tspan x="1699" dy="20">-</tspan><tspan x="1699" dy="20">-</tspan><tspan x="1699" dy="20">-</tspan><tspan x="1699" dy="20">-</tspan><tspan x="1699" dy="20">-</tspan><tspan x="1699" dy="20">-</tspan><tspan x="1699" dy="20">-</tspan><tspan x="1699" dy="20"> </tspan><tspan x="1699" dy="20">-</tspan></text>
<text><tspan x="1715" y="3886">currentUserReturnFrame()</tspan><tspan x="1715" dy="20">tryRequireSignalFrames()</tspan><tspan x="1715" dy="20">clearSignalFrameRequirement()</tspan><tspan x="1715" dy="20">setUserReturnSignalParked()</tspan><tspan x="1715" dy="20">canSkipUserReturnWork()</tspan><tspan x="1715" dy="20">clearUserReturnWorkIfIdle()</tspan><tspan x="1715" dy="20">userReturnWorkPending()</tspan><tspan x="1715" dy="20">requiresSignalFrames()</tspan><tspan x="1715" dy="20">Thread()</tspan><tspan x="1715" dy="20">Thread()</tspan><tspan x="1715" dy="20">and 132 more...</tspan><tspan x="1715" dy="20">threadExited()</tspan><tspan x="1715" dy="20">setScheduler()</tspan><tspan x="1715" dy="20">deferEvents()</tspan><tspan x="1715" dy="20">resumeEvents()</tspan><tspan x="1715" dy="20">deferTermination()</tspan><tspan x="1715" dy="20">resumeTermination()</tspan><tspan x="1715" dy="20">markUserReturnWorkFlag()</tspan><tspan x="1715" dy="20">clearUserReturnWorkFlag()</tspan><tspan x="1715" dy="20">markUserReturnWorkPending()</tspan><tspan x="1715" dy="20">registerDeferredScope()</tspan><tspan x="1715" dy="20">armStateCleanup()</tspan><tspan x="1715" dy="20">and 10 more...</tspan><tspan x="1715" dy="20">registerFreshTermination</tspan><tspan x="1715" dy="20">Deferral()</tspan><tspan x="1715" dy="20">Thread()</tspan><tspan x="1715" dy="20">Thread()</tspan><tspan x="1715" dy="20">operator=()</tspan><tspan x="1715" dy="20">publishTimeAccounting()</tspan><tspan x="1715" dy="20">initialisePlacement()</tspan><tspan x="1715" dy="20">publishReadyNotification()</tspan><tspan x="1715" dy="20">cleanStateLevel()</tspan><tspan x="1715" dy="20">beginTemporarySignalMask()</tspan><tspan x="1715" dy="20">finishTemporarySignalMask()</tspan><tspan x="1715" dy="20">and 24 more...</tspan><tspan x="1715" dy="20">discardJoin()</tspan></text></g>

<g id="process"><rect class="rr" x="3242" y="2540" width="257" height="950"/><text class="c" x="3370" y="2556">Process</text><path class="rr" d="M3242 2562h257M3242 2806h257"/>
<text><tspan x="3252" y="2577">-</tspan><tspan x="3252" dy="20">-</tspan><tspan x="3252" dy="20">-</tspan><tspan x="3252" dy="20">-</tspan><tspan x="3252" dy="20">-</tspan><tspan x="3252" dy="20">-</tspan><tspan x="3252" dy="20">-</tspan><tspan x="3252" dy="20">-</tspan><tspan x="3252" dy="20">-</tspan><tspan x="3252" dy="20">-</tspan></text>
<text><tspan x="3268" y="2577">m_Id</tspan><tspan x="3268" dy="20">m_UserspaceId</tspan><tspan x="3268" dy="20">m_ExitStatus</tspan><tspan x="3268" dy="20">m_bFilesystemContextReady</tspan><tspan x="3268" dy="20">m_UserReservationGeneration</tspan><tspan x="3268" dy="20">m_ContinuationEpoch</tspan><tspan x="3268" dy="20">m_nThreadJoinOperations</tspan><tspan x="3268" dy="20">m_bThreadJoinAdmissionClosed</tspan><tspan x="3268" dy="20">m_nExternalLeases</tspan><tspan x="3268" dy="20">m_bExternalLeaseAdmission</tspan><tspan x="3268" dy="20">Closed</tspan><tspan x="3268" dy="20">and 19 more...</tspan></text>
<text><tspan x="3252" y="2821">+</tspan><tspan x="3252" dy="20">+</tspan><tspan x="3252" dy="20">+</tspan><tspan x="3252" dy="20">+</tspan><tspan x="3252" dy="20">+</tspan><tspan x="3252" dy="20">+</tspan><tspan x="3252" dy="20">+</tspan><tspan x="3252" dy="20">+</tspan><tspan x="3252" dy="20">+</tspan><tspan x="3252" dy="20">+</tspan><tspan x="3252" dy="20"> </tspan><tspan x="3252" dy="20">+</tspan><tspan x="3252" dy="20">+</tspan><tspan x="3252" dy="20">+</tspan><tspan x="3252" dy="20">#</tspan><tspan x="3252" dy="20">#</tspan><tspan x="3252" dy="20">#</tspan><tspan x="3252" dy="20">#</tspan><tspan x="3252" dy="20">#</tspan><tspan x="3252" dy="20">#</tspan><tspan x="3252" dy="20">#</tspan><tspan x="3252" dy="20">#</tspan><tspan x="3252" dy="20">#</tspan><tspan x="3252" dy="20">-</tspan><tspan x="3252" dy="20">-</tspan><tspan x="3252" dy="20">-</tspan><tspan x="3252" dy="20">-</tspan><tspan x="3252" dy="20">-</tspan><tspan x="3252" dy="20">-</tspan><tspan x="3252" dy="20">-</tspan><tspan x="3252" dy="20">-</tspan><tspan x="3252" dy="20">-</tspan><tspan x="3252" dy="20">-</tspan></text>
<text><tspan x="3268" y="2821">Process()</tspan><tspan x="3268" dy="20">Process()</tspan><tspan x="3268" dy="20">~Process()</tspan><tspan x="3268" dy="20">addThread()</tspan><tspan x="3268" dy="20">threadExiting()</tspan><tspan x="3268" dy="20">transferExecProcessSignals()</tspan><tspan x="3268" dy="20">removeThread()</tspan><tspan x="3268" dy="20">getNumThreads()</tspan><tspan x="3268" dy="20">acquireThread()</tspan><tspan x="3268" dy="20">acquireProcessSignalThread()</tspan><tspan x="3268" dy="20">and 87 more...</tspan><tspan x="3268" dy="20">currentFilesystemCredentials()</tspan><tspan x="3268" dy="20">getInit()</tspan><tspan x="3268" dy="20">setInit()</tspan><tspan x="3268" dy="20">publishAccountIdentity()</tspan><tspan x="3268" dy="20">Process()</tspan><tspan x="3268" dy="20">Process()</tspan><tspan x="3268" dy="20">publish()</tspan><tspan x="3268" dy="20">prepareForDestruction()</tspan><tspan x="3268" dy="20">enableTimeAccountingReports()</tspan><tspan x="3268" dy="20">setTimeAccountingReportInterest()</tspan><tspan x="3268" dy="20">loadFilesystemIds()</tspan><tspan x="3268" dy="20">publishFilesystemIds()</tspan><tspan x="3268" dy="20">finishTermination()</tspan><tspan x="3268" dy="20">Process()</tspan><tspan x="3268" dy="20">operator=()</tspan><tspan x="3268" dy="20">reportTimesUpdated()</tspan><tspan x="3268" dy="20">drainDeferredTimeAccounting()</tspan><tspan x="3268" dy="20">closeDeferredTimeAccounting()</tspan><tspan x="3268" dy="20">publishTimeAccounting()</tspan><tspan x="3268" dy="20">reportTimeAccounting()</tspan><tspan x="3268" dy="20">queueTimeAccountingReport()</tspan><tspan x="3268" dy="20">processTerminated()</tspan><tspan x="3268" dy="20">and 15 more...</tspan></text></g>

<g id="memorymappedobject"><rect class="r" x="2222" y="3863" width="198" height="490"/><text class="c" x="2321" y="3879">MemoryMappedObject</text><path class="r" d="M2222 3885h198M2222 4109h198"/>
<text><tspan x="2232" y="3900">+</tspan><tspan x="2232" dy="20">+</tspan><tspan x="2232" dy="20">+</tspan><tspan x="2232" dy="20">+</tspan><tspan x="2232" dy="20">#</tspan><tspan x="2232" dy="20">#</tspan><tspan x="2232" dy="20">#</tspan><tspan x="2232" dy="20">#</tspan><tspan x="2232" dy="20">#</tspan><tspan x="2232" dy="20">#</tspan><tspan x="2232" dy="20">#</tspan></text>
<text><tspan x="2248" y="3900">None</tspan><tspan x="2248" dy="20">Read</tspan><tspan x="2248" dy="20">Write</tspan><tspan x="2248" dy="20">Exec</tspan><tspan x="2248" dy="20">m_bCopyOnWrite</tspan><tspan x="2248" dy="20">m_Address</tspan><tspan x="2248" dy="20">m_Length</tspan><tspan x="2248" dy="20">m_Permissions</tspan><tspan x="2248" dy="20">m_MaximumPermissions</tspan><tspan x="2248" dy="20">m_OwnsMappings</tspan><tspan x="2248" dy="20">m_LockMode</tspan></text>
<text><tspan x="2232" y="4124">+</tspan><tspan x="2232" dy="20">+</tspan><tspan x="2232" dy="20">+</tspan><tspan x="2232" dy="20">+</tspan><tspan x="2232" dy="20">+</tspan><tspan x="2232" dy="20">+</tspan><tspan x="2232" dy="20">+</tspan><tspan x="2232" dy="20">+</tspan><tspan x="2232" dy="20">+</tspan><tspan x="2232" dy="20">+</tspan><tspan x="2232" dy="20"> </tspan><tspan x="2232" dy="20">-</tspan></text>
<text><tspan x="2248" y="4124">MemoryMappedObject()</tspan><tspan x="2248" dy="20">~MemoryMappedObject()</tspan><tspan x="2248" dy="20">clone()</tspan><tspan x="2248" dy="20">split()</tspan><tspan x="2248" dy="20">stageSlice()</tspan><tspan x="2248" dy="20">setMappingOwnership()</tspan><tspan x="2248" dy="20">releaseDetachedPage()</tspan><tspan x="2248" dy="20">discardRange()</tspan><tspan x="2248" dy="20">backingFile()</tspan><tspan x="2248" dy="20">backingRangeValid()</tspan><tspan x="2248" dy="20">and 26 more...</tspan><tspan x="2248" dy="20">MemoryMappedObject()</tspan></text></g>

<g id="subsystem"><rect class="r" x="3346" y="3916" width="203" height="390"/><text class="c" x="3447" y="3932">Subsystem</text><path class="r" d="M3346 3938h203M3346 3962h203"/>
<text x="3356" y="3953">#</text><text x="3372" y="3953">m_Type</text>
<text><tspan x="3356" y="3977">+</tspan><tspan x="3356" dy="20">+</tspan><tspan x="3356" dy="20">+</tspan><tspan x="3356" dy="20">+</tspan><tspan x="3356" dy="20">+</tspan><tspan x="3356" dy="20">+</tspan><tspan x="3356" dy="20">+</tspan><tspan x="3356" dy="20">+</tspan><tspan x="3356" dy="20">+</tspan><tspan x="3356" dy="20">+</tspan><tspan x="3356" dy="20"> </tspan><tspan x="3356" dy="20">#</tspan><tspan x="3356" dy="20">#</tspan><tspan x="3356" dy="20"> </tspan><tspan x="3356" dy="20">#</tspan><tspan x="3356" dy="20">#</tspan><tspan x="3356" dy="20">-</tspan></text>
<text><tspan x="3372" y="3977">userReturnCheckpoint()</tspan><tspan x="3372" dy="20">userReturnEvent()</tspan><tspan x="3372" dy="20">Subsystem()</tspan><tspan x="3372" dy="20">Subsystem()</tspan><tspan x="3372" dy="20">Subsystem()</tspan><tspan x="3372" dy="20">~Subsystem()</tspan><tspan x="3372" dy="20">acquire()</tspan><tspan x="3372" dy="20">release()</tspan><tspan x="3372" dy="20">exit()</tspan><tspan x="3372" dy="20">kill()</tspan><tspan x="3372" dy="20">and 8 more...</tspan><tspan x="3372" dy="20">prepareThreadsForExec()</tspan><tspan x="3372" dy="20">preserveProcessSignalsFor</tspan><tspan x="3372" dy="20">ThreadExit()</tspan><tspan x="3372" dy="20">threadExiting()</tspan><tspan x="3372" dy="20">threadRemoved()</tspan><tspan x="3372" dy="20">operator=()</tspan></text></g>

<g id="vector"><rect class="ro" x="2310" y="4761" width="142" height="350"/><text class="c" x="2381" y="4777">Vector&lt; Thread * &gt;</text><path class="ro" d="M2310 4783h142M2310 4867h142"/>
<text><tspan x="2320" y="4798">-</tspan><tspan x="2320" dy="20">-</tspan><tspan x="2320" dy="20">-</tspan><tspan x="2320" dy="20">-</tspan></text><text><tspan x="2336" y="4798">m_Size</tspan><tspan x="2336" dy="20">m_Count</tspan><tspan x="2336" dy="20">m_Start</tspan><tspan x="2336" dy="20">m_ReserveFactor</tspan></text>
<text><tspan x="2320" y="4882">+</tspan><tspan x="2320" dy="20">+</tspan><tspan x="2320" dy="20">+</tspan><tspan x="2320" dy="20">+</tspan><tspan x="2320" dy="20">+</tspan><tspan x="2320" dy="20">+</tspan><tspan x="2320" dy="20">+</tspan><tspan x="2320" dy="20">+</tspan><tspan x="2320" dy="20">+</tspan><tspan x="2320" dy="20">+</tspan><tspan x="2320" dy="20"> </tspan><tspan x="2320" dy="20">-</tspan></text>
<text><tspan x="2336" y="4882">Vector()</tspan><tspan x="2336" dy="20">Vector()</tspan><tspan x="2336" dy="20">Vector()</tspan><tspan x="2336" dy="20">~Vector()</tspan><tspan x="2336" dy="20">operator=()</tspan><tspan x="2336" dy="20">operator[]()</tspan><tspan x="2336" dy="20">operator[]()</tspan><tspan x="2336" dy="20">size()</tspan><tspan x="2336" dy="20">count()</tspan><tspan x="2336" dy="20">pushBack()</tspan><tspan x="2336" dy="20">and 25 more...</tspan><tspan x="2336" dy="20">reserve()</tspan></text></g>

<g id="memorymappedfile"><rect class="r" x="1831" y="4661" width="241" height="550"/><text class="c" x="1951" y="4677">MemoryMappedFile</text><path class="r" d="M1831 4683h241M1831 4827h241"/>
<text><tspan x="1841" y="4698">-</tspan><tspan x="1841" dy="20">-</tspan><tspan x="1841" dy="20">-</tspan><tspan x="1841" dy="20">-</tspan><tspan x="1841" dy="20">-</tspan><tspan x="1841" dy="20">-</tspan><tspan x="1841" dy="20">-</tspan></text>
<text><tspan x="1857" y="4698">m_Offset</tspan><tspan x="1857" dy="20">m_ReadAheadEnd</tspan><tspan x="1857" dy="20">m_ReadAheadPages</tspan><tspan x="1857" dy="20">m_bVfsLease</tspan><tspan x="1857" dy="20">m_ExecutableUse</tspan><tspan x="1857" dy="20">m_SharedWriteUse</tspan><tspan x="1857" dy="20">m_UseAdmitted</tspan></text>
<text><tspan x="1841" y="4842">+</tspan><tspan x="1841" dy="20">+</tspan><tspan x="1841" dy="20">+</tspan><tspan x="1841" dy="20">+</tspan><tspan x="1841" dy="20">+</tspan><tspan x="1841" dy="20">+</tspan><tspan x="1841" dy="20">+</tspan><tspan x="1841" dy="20">+</tspan><tspan x="1841" dy="20">+</tspan><tspan x="1841" dy="20">+</tspan><tspan x="1841" dy="20"> </tspan><tspan x="1841" dy="20">-</tspan><tspan x="1841" dy="20">-</tspan><tspan x="1841" dy="20">-</tspan><tspan x="1841" dy="20">-</tspan><tspan x="1841" dy="20">-</tspan><tspan x="1841" dy="20">-</tspan><tspan x="1841" dy="20">-</tspan><tspan x="1841" dy="20">-</tspan></text>
<text><tspan x="1857" y="4842">MemoryMappedFile()</tspan><tspan x="1857" dy="20">~MemoryMappedFile()</tspan><tspan x="1857" dy="20">clone()</tspan><tspan x="1857" dy="20">split()</tspan><tspan x="1857" dy="20">stageSlice()</tspan><tspan x="1857" dy="20">releaseDetachedPage()</tspan><tspan x="1857" dy="20">discardRange()</tspan><tspan x="1857" dy="20">backingFile()</tspan><tspan x="1857" dy="20">backingRangeValid()</tspan><tspan x="1857" dy="20">resident()</tspan><tspan x="1857" dy="20">and 13 more...</tspan><tspan x="1857" dy="20">unmapUnlocked()</tspan><tspan x="1857" dy="20">getBackingPage()</tspan><tspan x="1857" dy="20">releaseDetachedPageUnlocked()</tspan><tspan x="1857" dy="20">trackMapping()</tspan><tspan x="1857" dy="20">untrackMapping()</tspan><tspan x="1857" dy="20">getMapping()</tspan><tspan x="1857" dy="20">getMappingCount()</tspan><tspan x="1857" dy="20">clearMappings()</tspan></text></g>

<g id="mapping"><rect class="rg" x="4013" y="5269" width="219" height="78"/><text class="c" x="4122" y="5284">MemoryMapManager::Prepared</text><text class="c" x="4122" y="5299">FileResize::Data::Mapping</text><path class="rg" d="M4013 5307h219M4013 5327h219"/></g>

<g id="spcontrol"><rect class="r" x="2948" y="806" width="144" height="100"/><text class="c" x="3020" y="821">SharedPointer&lt; T &gt;</text><text class="c" x="3020" y="835">::Control</text><path class="r" d="M2948 842h144M2948 886h144"/>
<text><tspan x="2962" y="857">+</tspan><tspan x="2962" dy="20">+</tspan></text><text><tspan x="2994" y="857">ptr</tspan><tspan x="2994" dy="20">refcount</tspan></text></g>

<g id="spt"><rect class="r" x="3078" y="1222" width="142" height="346"/><text class="c" x="3149" y="1238">SharedPointer&lt; T &gt;</text><path class="r" d="M3078 1244h142M3078 1264h142"/>
<text><tspan x="3088" y="1279">+</tspan><tspan x="3088" dy="20">+</tspan><tspan x="3088" dy="20">+</tspan><tspan x="3088" dy="20">+</tspan><tspan x="3088" dy="20">+</tspan><tspan x="3088" dy="20">+</tspan><tspan x="3088" dy="20">+</tspan><tspan x="3088" dy="20">+</tspan><tspan x="3088" dy="20">+</tspan><tspan x="3088" dy="20">+</tspan><tspan x="3088" dy="20"> </tspan><tspan x="3088" dy="20">+</tspan><tspan x="3088" dy="20">+</tspan><tspan x="3088" dy="20">+</tspan><tspan x="3088" dy="20">-</tspan></text>
<text><tspan x="3104" y="1279">SharedPointer()</tspan><tspan x="3104" dy="20">SharedPointer()</tspan><tspan x="3104" dy="20">SharedPointer()</tspan><tspan x="3104" dy="20">~SharedPointer()</tspan><tspan x="3104" dy="20">SharedPointer()</tspan><tspan x="3104" dy="20">reset()</tspan><tspan x="3104" dy="20">reset()</tspan><tspan x="3104" dy="20">get()</tspan><tspan x="3104" dy="20">operator-&gt;()</tspan><tspan x="3104" dy="20">operator*()</tspan><tspan x="3104" dy="20">and 11 more...</tspan><tspan x="3104" dy="20">allocate()</tspan><tspan x="3104" dy="20">tryAllocate()</tspan><tspan x="3104" dy="20">tryAdopt()</tspan><tspan x="3104" dy="20">release()</tspan></text></g>

<g id="spfp"><rect class="r" x="2564" y="1906" width="191" height="360"/><text class="c" x="2659" y="1921">SharedPointer&lt; Filesystem</text><text class="c" x="2659" y="1935">Path &gt;</text><path class="r" d="M2564 1942h191M2564 1962h191"/>
<text><tspan x="2580" y="1977">+</tspan><tspan x="2580" dy="20">+</tspan><tspan x="2580" dy="20">+</tspan><tspan x="2580" dy="20">+</tspan><tspan x="2580" dy="20">+</tspan><tspan x="2580" dy="20">+</tspan><tspan x="2580" dy="20">+</tspan><tspan x="2580" dy="20">+</tspan><tspan x="2580" dy="20">+</tspan><tspan x="2580" dy="20">+</tspan><tspan x="2580" dy="20"> </tspan><tspan x="2580" dy="20">+</tspan><tspan x="2580" dy="20">+</tspan><tspan x="2580" dy="20">+</tspan><tspan x="2580" dy="20">-</tspan></text>
<text><tspan x="2606" y="1977">SharedPointer()</tspan><tspan x="2606" dy="20">SharedPointer()</tspan><tspan x="2606" dy="20">SharedPointer()</tspan><tspan x="2606" dy="20">SharedPointer()</tspan><tspan x="2606" dy="20">~SharedPointer()</tspan><tspan x="2606" dy="20">reset()</tspan><tspan x="2606" dy="20">reset()</tspan><tspan x="2606" dy="20">get()</tspan><tspan x="2606" dy="20">operator-&gt;()</tspan><tspan x="2606" dy="20">operator*()</tspan><tspan x="2606" dy="20">and 11 more...</tspan><tspan x="2606" dy="20">allocate()</tspan><tspan x="2606" dy="20">tryAllocate()</tspan><tspan x="2606" dy="20">tryAdopt()</tspan><tspan x="2606" dy="20">release()</tspan></text></g>

<g id="spma"><rect class="r" x="2779" y="1914" width="267" height="346"/><text class="c" x="2912" y="1930">SharedPointer&lt; MappingAttachment &gt;</text><path class="r" d="M2779 1936h267M2779 1956h267"/>
<text><tspan x="2819" y="1971">+</tspan><tspan x="2819" dy="20">+</tspan><tspan x="2819" dy="20">+</tspan><tspan x="2819" dy="20">+</tspan><tspan x="2819" dy="20">+</tspan><tspan x="2819" dy="20">+</tspan><tspan x="2819" dy="20">+</tspan><tspan x="2819" dy="20">+</tspan><tspan x="2819" dy="20">+</tspan><tspan x="2819" dy="20">+</tspan><tspan x="2819" dy="20"> </tspan><tspan x="2819" dy="20">+</tspan><tspan x="2819" dy="20">+</tspan><tspan x="2819" dy="20">+</tspan><tspan x="2819" dy="20">-</tspan></text>
<text><tspan x="2880" y="1971">SharedPointer()</tspan><tspan x="2880" dy="20">SharedPointer()</tspan><tspan x="2880" dy="20">SharedPointer()</tspan><tspan x="2880" dy="20">SharedPointer()</tspan><tspan x="2880" dy="20">~SharedPointer()</tspan><tspan x="2880" dy="20">reset()</tspan><tspan x="2880" dy="20">reset()</tspan><tspan x="2880" dy="20">get()</tspan><tspan x="2880" dy="20">operator-&gt;()</tspan><tspan x="2880" dy="20">operator*()</tspan><tspan x="2880" dy="20">and 11 more...</tspan><tspan x="2880" dy="20">allocate()</tspan><tspan x="2880" dy="20">tryAllocate()</tspan><tspan x="2880" dy="20">tryAdopt()</tspan><tspan x="2880" dy="20">release()</tspan></text></g>

<g id="spupn"><rect class="r" x="3070" y="1906" width="188" height="360"/><text class="c" x="3164" y="1921">SharedPointer&lt; Userspace</text><text class="c" x="3164" y="1935">PidNamespace &gt;</text><path class="r" d="M3070 1942h188M3070 1962h188"/>
<text><tspan x="3086" y="1977">+</tspan><tspan x="3086" dy="20">+</tspan><tspan x="3086" dy="20">+</tspan><tspan x="3086" dy="20">+</tspan><tspan x="3086" dy="20">+</tspan><tspan x="3086" dy="20">+</tspan><tspan x="3086" dy="20">+</tspan><tspan x="3086" dy="20">+</tspan><tspan x="3086" dy="20">+</tspan><tspan x="3086" dy="20">+</tspan><tspan x="3086" dy="20"> </tspan><tspan x="3086" dy="20">+</tspan><tspan x="3086" dy="20">+</tspan><tspan x="3086" dy="20">+</tspan><tspan x="3086" dy="20">-</tspan></text>
<text><tspan x="3112" y="1977">SharedPointer()</tspan><tspan x="3112" dy="20">SharedPointer()</tspan><tspan x="3112" dy="20">SharedPointer()</tspan><tspan x="3112" dy="20">SharedPointer()</tspan><tspan x="3112" dy="20">~SharedPointer()</tspan><tspan x="3112" dy="20">reset()</tspan><tspan x="3112" dy="20">reset()</tspan><tspan x="3112" dy="20">get()</tspan><tspan x="3112" dy="20">operator-&gt;()</tspan><tspan x="3112" dy="20">operator*()</tspan><tspan x="3112" dy="20">and 11 more...</tspan><tspan x="3112" dy="20">allocate()</tspan><tspan x="3112" dy="20">tryAllocate()</tspan><tspan x="3112" dy="20">tryAdopt()</tspan><tspan x="3112" dy="20">release()</tspan></text></g>

<g id="spct"><rect class="r" x="3284" y="1906" width="170" height="360"/><text class="c" x="3369" y="1921">SharedPointer&lt; Process</text><text class="c" x="3369" y="1935">::ControllingTerminal &gt;</text><path class="r" d="M3284 1942h170M3284 1962h170"/>
<text><tspan x="3298" y="1977">+</tspan><tspan x="3298" dy="20">+</tspan><tspan x="3298" dy="20">+</tspan><tspan x="3298" dy="20">+</tspan><tspan x="3298" dy="20">+</tspan><tspan x="3298" dy="20">+</tspan><tspan x="3298" dy="20">+</tspan><tspan x="3298" dy="20">+</tspan><tspan x="3298" dy="20">+</tspan><tspan x="3298" dy="20">+</tspan><tspan x="3298" dy="20"> </tspan><tspan x="3298" dy="20">+</tspan><tspan x="3298" dy="20">+</tspan><tspan x="3298" dy="20">+</tspan><tspan x="3298" dy="20">-</tspan></text>
<text><tspan x="3320" y="1977">SharedPointer()</tspan><tspan x="3320" dy="20">SharedPointer()</tspan><tspan x="3320" dy="20">SharedPointer()</tspan><tspan x="3320" dy="20">SharedPointer()</tspan><tspan x="3320" dy="20">~SharedPointer()</tspan><tspan x="3320" dy="20">reset()</tspan><tspan x="3320" dy="20">reset()</tspan><tspan x="3320" dy="20">get()</tspan><tspan x="3320" dy="20">operator-&gt;()</tspan><tspan x="3320" dy="20">operator*()</tspan><tspan x="3320" dy="20">and 11 more...</tspan><tspan x="3320" dy="20">allocate()</tspan><tspan x="3320" dy="20">tryAllocate()</tspan><tspan x="3320" dy="20">tryAdopt()</tspan><tspan x="3320" dy="20">release()</tspan></text></g>

<g id="spvc"><rect class="r" x="3478" y="1906" width="170" height="360"/><text class="c" x="3563" y="1921">SharedPointer&lt; Process</text><text class="c" x="3563" y="1935">::VforkCompletion &gt;</text><path class="r" d="M3478 1942h170M3478 1962h170"/>
<text><tspan x="3492" y="1977">+</tspan><tspan x="3492" dy="20">+</tspan><tspan x="3492" dy="20">+</tspan><tspan x="3492" dy="20">+</tspan><tspan x="3492" dy="20">+</tspan><tspan x="3492" dy="20">+</tspan><tspan x="3492" dy="20">+</tspan><tspan x="3492" dy="20">+</tspan><tspan x="3492" dy="20">+</tspan><tspan x="3492" dy="20">+</tspan><tspan x="3492" dy="20"> </tspan><tspan x="3492" dy="20">+</tspan><tspan x="3492" dy="20">+</tspan><tspan x="3492" dy="20">+</tspan><tspan x="3492" dy="20">-</tspan></text>
<text><tspan x="3514" y="1977">SharedPointer()</tspan><tspan x="3514" dy="20">SharedPointer()</tspan><tspan x="3514" dy="20">SharedPointer()</tspan><tspan x="3514" dy="20">SharedPointer()</tspan><tspan x="3514" dy="20">~SharedPointer()</tspan><tspan x="3514" dy="20">reset()</tspan><tspan x="3514" dy="20">reset()</tspan><tspan x="3514" dy="20">get()</tspan><tspan x="3514" dy="20">operator-&gt;()</tspan><tspan x="3514" dy="20">operator*()</tspan><tspan x="3514" dy="20">and 11 more...</tspan><tspan x="3514" dy="20">allocate()</tspan><tspan x="3514" dy="20">tryAllocate()</tspan><tspan x="3514" dy="20">tryAdopt()</tspan><tspan x="3514" dy="20">release()</tspan></text></g>

<g id="atomic"><rect class="ro" x="3673" y="2052" width="128" height="62"/><text class="c" x="3737" y="2068">Atomic&lt; size_t &gt;</text><path class="ro" d="M3673 2074h128M3673 2094h128"/></g>

<g id="staticstring"><rect class="ro" x="3825" y="1882" width="176" height="410"/><text class="c" x="3913" y="1898">StaticString&lt; 128 &gt;</text><path class="ro" d="M3825 1904h176M3825 1988h176"/>
<text><tspan x="3835" y="1919">-</tspan><tspan x="3835" dy="20">-</tspan><tspan x="3835" dy="20">-</tspan><tspan x="3835" dy="20">-</tspan></text><text><tspan x="3851" y="1919">m_pData</tspan><tspan x="3851" dy="20">m_Length</tspan><tspan x="3851" dy="20">m_Hash</tspan><tspan x="3851" dy="20">m_AllowHashes</tspan></text>
<text><tspan x="3835" y="2003">+</tspan><tspan x="3835" dy="20">+</tspan><tspan x="3835" dy="20">+</tspan><tspan x="3835" dy="20">+</tspan><tspan x="3835" dy="20">+</tspan><tspan x="3835" dy="20">+</tspan><tspan x="3835" dy="20">+</tspan><tspan x="3835" dy="20">+</tspan><tspan x="3835" dy="20">+</tspan><tspan x="3835" dy="20">+</tspan><tspan x="3835" dy="20"> </tspan><tspan x="3835" dy="20">-</tspan><tspan x="3835" dy="20">-</tspan><tspan x="3835" dy="20">-</tspan><tspan x="3835" dy="20">-</tspan></text>
<text><tspan x="3851" y="2003">StaticString()</tspan><tspan x="3851" dy="20">StaticString()</tspan><tspan x="3851" dy="20">StaticString()</tspan><tspan x="3851" dy="20">StaticString()</tspan><tspan x="3851" dy="20">StaticString()</tspan><tspan x="3851" dy="20">operator const char *()</tspan><tspan x="3851" dy="20">operator+=()</tspan><tspan x="3851" dy="20">operator+=()</tspan><tspan x="3851" dy="20">clear()</tspan><tspan x="3851" dy="20">assign()</tspan><tspan x="3851" dy="20">and 38 more...</tspan><tspan x="3851" dy="20">updateHash()</tspan><tspan x="3851" dy="20">check()</tspan><tspan x="3851" dy="20">canAppend()</tspan><tspan x="3851" dy="20">contains()</tspan></text></g>

<g id="fscontextowner"><rect class="rr" x="4025" y="1962" width="214" height="246"/><text class="c" x="4132" y="1978">FilesystemContextOwner</text><path class="rr" d="M4025 1984h214M4025 2004h214"/>
<text><tspan x="4035" y="2019">+</tspan><tspan x="4035" dy="20">+</tspan><tspan x="4035" dy="20">+</tspan><tspan x="4035" dy="20">+</tspan><tspan x="4035" dy="20">+</tspan><tspan x="4035" dy="20">+</tspan><tspan x="4035" dy="20">+</tspan><tspan x="4035" dy="20">+</tspan><tspan x="4035" dy="20">-</tspan><tspan x="4035" dy="20">-</tspan></text>
<text><tspan x="4051" y="2019">FilesystemContextOwner()</tspan><tspan x="4051" dy="20">FilesystemContextOwner()</tspan><tspan x="4051" dy="20">operator=()</tspan><tspan x="4051" dy="20">~FilesystemContextOwner()</tspan><tspan x="4051" dy="20">reference()</tspan><tspan x="4051" dy="20">operator bool()</tspan><tspan x="4051" dy="20">reset()</tspan><tspan x="4051" dy="20">adopt()</tspan><tspan x="4051" dy="20">FilesystemContextOwner()</tspan><tspan x="4051" dy="20">operator=()</tspan></text></g>

<g id="rangelist"><rect class="ro" x="4263" y="1952" width="207" height="270"/><text class="c" x="4366" y="1968">RangeList&lt; uintptr_t &gt;</text><path class="ro" d="M4263 1974h207M4263 1998h207"/>
<text x="4273" y="1989">-</text><text x="4289" y="1989">m_bPreferUsed</text>
<text><tspan x="4273" y="2013">+</tspan><tspan x="4273" dy="20">+</tspan><tspan x="4273" dy="20">+</tspan><tspan x="4273" dy="20">+</tspan><tspan x="4273" dy="20">+</tspan><tspan x="4273" dy="20">+</tspan><tspan x="4273" dy="20">+</tspan><tspan x="4273" dy="20">+</tspan><tspan x="4273" dy="20">+</tspan><tspan x="4273" dy="20">+</tspan></text>
<text><tspan x="4289" y="2013">RangeList()</tspan><tspan x="4289" dy="20">RangeList()</tspan><tspan x="4289" dy="20">RangeList()</tspan><tspan x="4289" dy="20">RangeList()</tspan><tspan x="4289" dy="20">~RangeList()</tspan><tspan x="4289" dy="20">operator=()</tspan><tspan x="4289" dy="20">free()</tspan><tspan x="4289" dy="20">tryFree()</tspan><tspan x="4289" dy="20">freeWithoutAllocation()</tspan><tspan x="4289" dy="20">allocateWithoutAllocation()</tspan><tspan x="4289" dy="20">and 9 more...</tspan></text></g>

<g id="dynamiclinker"><rect class="rr" x="4494" y="1892" width="169" height="390"/><text class="c" x="4578" y="1908">DynamicLinker</text><path class="rr" d="M4494 1914h169M4494 1978h169"/>
<text><tspan x="4504" y="1929">-</tspan><tspan x="4504" dy="20">-</tspan><tspan x="4504" dy="20">-</tspan></text><text><tspan x="4520" y="1929">m_ProgramStart</tspan><tspan x="4520" dy="20">m_ProgramSize</tspan><tspan x="4520" dy="20">m_ProgramBuffer</tspan></text>
<text><tspan x="4504" y="1993">+</tspan><tspan x="4504" dy="20">+</tspan><tspan x="4504" dy="20">+</tspan><tspan x="4504" dy="20">+</tspan><tspan x="4504" dy="20">+</tspan><tspan x="4504" dy="20">+</tspan><tspan x="4504" dy="20">+</tspan><tspan x="4504" dy="20">+</tspan><tspan x="4504" dy="20">+</tspan><tspan x="4504" dy="20">+</tspan><tspan x="4504" dy="20">+</tspan><tspan x="4504" dy="20">-</tspan><tspan x="4504" dy="20">-</tspan><tspan x="4504" dy="20">-</tspan><tspan x="4504" dy="20">-</tspan></text>
<text><tspan x="4520" y="1993">DynamicLinker()</tspan><tspan x="4520" dy="20">~DynamicLinker()</tspan><tspan x="4520" dy="20">DynamicLinker()</tspan><tspan x="4520" dy="20">checkInterpreter()</tspan><tspan x="4520" dy="20">checkDependencies()</tspan><tspan x="4520" dy="20">loadProgram()</tspan><tspan x="4520" dy="20">loadObject()</tspan><tspan x="4520" dy="20">trap()</tspan><tspan x="4520" dy="20">getProgramElf()</tspan><tspan x="4520" dy="20">resolve()</tspan><tspan x="4520" dy="20">resolvePlt()</tspan><tspan x="4520" dy="20">operator=()</tspan><tspan x="4520" dy="20">resolvePltSymbol()</tspan><tspan x="4520" dy="20">initPlt()</tspan><tspan x="4520" dy="20">loadDemandPage()</tspan></text></g>

<g id="childtransition"><rect class="rl" x="4688" y="2023" width="168" height="90"/><text class="c" x="4772" y="2039">Process::ChildTransition</text><path class="rl" d="M4688 2045h168M4688 2089h168"/>
<text><tspan x="4702" y="2060">+</tspan><tspan x="4702" dy="20">+</tspan></text><text><tspan x="4722" y="2060">kind</tspan><tspan x="4722" dy="20">stopSignal</tspan></text>
<text x="4702" y="2104">+</text><text x="4722" y="2104">ChildTransition()</text></g>

<g id="processmetadata"><rect class="r" x="4880" y="1962" width="202" height="230"/><text class="c" x="4981" y="1978">Process::ProcessMetadata</text><path class="r" d="M4880 1984h202M4880 2168h202"/>
<text><tspan x="4890" y="1999">+</tspan><tspan x="4890" dy="20">+</tspan><tspan x="4890" dy="20">+</tspan><tspan x="4890" dy="20">+</tspan><tspan x="4890" dy="20">+</tspan><tspan x="4890" dy="20">+</tspan><tspan x="4890" dy="20">+</tspan><tspan x="4890" dy="20">+</tspan><tspan x="4890" dy="20">+</tspan></text>
<text><tspan x="4906" y="1999">heapUsage</tspan><tspan x="4906" dy="20">virtualPages</tspan><tspan x="4906" dy="20">physicalPages</tspan><tspan x="4906" dy="20">sharedPages</tspan><tspan x="4906" dy="20">userTime</tspan><tspan x="4906" dy="20">kernelTime</tspan><tspan x="4906" dy="20">reapedChildrenUserTime</tspan><tspan x="4906" dy="20">reapedChildrenKernelTime</tspan><tspan x="4906" dy="20">startTime</tspan></text>
<text x="4890" y="2183">+</text><text x="4906" y="2183">ProcessMetadata()</text></g>

<g id="percpu"><rect class="rl" x="5106" y="1954" width="201" height="250"/><text class="c" x="5206" y="1970">PerCpuTimeAccounting</text><path class="rl" d="M5106 1976h201M5106 2060h201"/>
<text><tspan x="5116" y="1991">-</tspan><tspan x="5116" dy="20">-</tspan><tspan x="5116" dy="20">-</tspan><tspan x="5116" dy="20">-</tspan></text><text><tspan x="5132" y="1991">m_Storage</tspan><tspan x="5132" dy="20">m_Slots</tspan><tspan x="5132" dy="20">m_Count</tspan><tspan x="5132" dy="20">SlotSize</tspan></text>
<text><tspan x="5116" y="2075">+</tspan><tspan x="5116" dy="20">+</tspan><tspan x="5116" dy="20">+</tspan><tspan x="5116" dy="20">+</tspan><tspan x="5116" dy="20">-</tspan><tspan x="5116" dy="20">-</tspan><tspan x="5116" dy="20">-</tspan></text>
<text><tspan x="5132" y="2075">PerCpuTimeAccounting()</tspan><tspan x="5132" dy="20">~PerCpuTimeAccounting()</tspan><tspan x="5132" dy="20">add()</tspan><tspan x="5132" dy="20">total()</tspan><tspan x="5132" dy="20">slot()</tspan><tspan x="5132" dy="20">PerCpuTimeAccounting()</tspan><tspan x="5132" dy="20">operator=()</tspan></text></g>

<g id="deferred"><rect class="r" x="5332" y="1988" width="201" height="170"/><text class="c" x="5432" y="2004">DeferredTimeAccounting</text><path class="r" d="M5332 2010h201M5332 2034h201"/>
<text x="5342" y="2025">-</text><text x="5358" y="2025">m_Pending</text>
<text><tspan x="5342" y="2049">+</tspan><tspan x="5342" dy="20">+</tspan><tspan x="5342" dy="20">+</tspan><tspan x="5342" dy="20">+</tspan><tspan x="5342" dy="20">-</tspan><tspan x="5342" dy="20">-</tspan></text>
<text><tspan x="5358" y="2049">DeferredTimeAccounting()</tspan><tspan x="5358" dy="20">publish()</tspan><tspan x="5358" dy="20">take()</tspan><tspan x="5358" dy="20">pending()</tspan><tspan x="5358" dy="20">DeferredTimeAccounting()</tspan><tspan x="5358" dy="20">operator=()</tspan></text></g>

<g id="memorylockcharge"><rect class="rl" x="5913" y="813" width="144" height="86"/><text class="c" x="5985" y="829">MemoryLockCharge</text><path class="rl" d="M5913 835h144M5913 879h144"/>
<text><tspan x="5923" y="850">+</tspan><tspan x="5923" dy="20">+</tspan></text><text><tspan x="5943" y="850">managedPages</tspan><tspan x="5943" dy="20">rawPages</tspan></text></g>

<g id="uniquecommon"><rect class="rl" x="5324" y="1261" width="255" height="270"/><text class="c" x="5451" y="1277">UniqueCommon&lt; T &gt;</text><path class="rl" d="M5324 1283h255M5324 1307h255"/>
<text x="5334" y="1298">#</text><text x="5350" y="1298">m_Pointer</text>
<text><tspan x="5334" y="1322">+</tspan><tspan x="5334" dy="20">+</tspan><tspan x="5334" dy="20">+</tspan><tspan x="5334" dy="20">+</tspan><tspan x="5334" dy="20">+</tspan><tspan x="5334" dy="20">+</tspan><tspan x="5334" dy="20">+</tspan><tspan x="5334" dy="20">#</tspan><tspan x="5334" dy="20">#</tspan><tspan x="5334" dy="20">#</tspan><tspan x="5334" dy="20">#</tspan></text>
<text><tspan x="5350" y="1322">UniqueCommon()</tspan><tspan x="5350" dy="20">~UniqueCommon()</tspan><tspan x="5350" dy="20">operator*()</tspan><tspan x="5350" dy="20">operator void *()</tspan><tspan x="5350" dy="20">get()</tspan><tspan x="5350" dy="20">reset()</tspan><tspan x="5350" dy="20">NOT_COPYABLE_OR_ASSIGNABLE()</tspan><tspan x="5350" dy="20">UniqueCommon()</tspan><tspan x="5350" dy="20">destroy()</tspan><tspan x="5350" dy="20">setPointer()</tspan><tspan x="5350" dy="20">release()</tspan></text></g>

<g id="uniquepointer"><rect class="rr" x="5604" y="1271" width="255" height="246"/><text class="c" x="5731" y="1287">UniquePointer&lt; T &gt;</text><path class="rr" d="M5604 1293h255M5604 1313h255"/>
<text><tspan x="5614" y="1328">+</tspan><tspan x="5614" dy="20">+</tspan><tspan x="5614" dy="20">+</tspan><tspan x="5614" dy="20">+</tspan><tspan x="5614" dy="20">+</tspan><tspan x="5614" dy="20">+</tspan><tspan x="5614" dy="20">+</tspan><tspan x="5614" dy="20">+</tspan><tspan x="5614" dy="20">-</tspan><tspan x="5614" dy="20">-</tspan></text>
<text><tspan x="5630" y="1328">UniquePointer()</tspan><tspan x="5630" dy="20">~UniquePointer()</tspan><tspan x="5630" dy="20">UniquePointer()</tspan><tspan x="5630" dy="20">NOT_COPYABLE_OR_ASSIGNABLE()</tspan><tspan x="5630" dy="20">operator=()</tspan><tspan x="5630" dy="20">releaseOwnership()</tspan><tspan x="5630" dy="20">adopt()</tspan><tspan x="5630" dy="20">allocate()</tspan><tspan x="5630" dy="20">UniquePointer()</tspan><tspan x="5630" dy="20">move_from()</tspan></text></g>

<g id="memorylockaccount"><rect class="r" x="5892" y="1311" width="186" height="170"/><text class="c" x="5985" y="1327">MemoryLockAccount</text><path class="r" d="M5892 1333h186M5892 1357h186"/>
<text x="5902" y="1348">-</text><text x="5918" y="1348">m_Future</text>
<text><tspan x="5902" y="1372">+</tspan><tspan x="5902" dy="20">+</tspan><tspan x="5902" dy="20">+</tspan><tspan x="5902" dy="20">+</tspan><tspan x="5902" dy="20">+</tspan><tspan x="5902" dy="20">+</tspan></text>
<text><tspan x="5918" y="1372">~MemoryLockAccount()</tspan><tspan x="5918" dy="20">permitsTotalPages()</tspan><tspan x="5918" dy="20">permitsLocking()</tspan><tspan x="5918" dy="20">charge()</tspan><tspan x="5918" dy="20">futureMode()</tspan><tspan x="5918" dy="20">publish()</tspan></text></g>

<g id="usermemorypolicy"><rect class="r" x="6102" y="1321" width="241" height="146"/><text class="c" x="6222" y="1337">UserMemoryPolicy</text><path class="r" d="M6102 1343h241M6102 1363h241"/>
<text><tspan x="6112" y="1378">+</tspan><tspan x="6112" dy="20">+</tspan><tspan x="6112" dy="20">+</tspan><tspan x="6112" dy="20">+</tspan><tspan x="6112" dy="20">+</tspan></text>
<text><tspan x="6128" y="1378">~UserMemoryPolicy()</tspan><tspan x="6128" dy="20">callerHasMemoryLockPrivilege()</tspan><tspan x="6128" dy="20">overlapsManagedMemory()</tspan><tspan x="6128" dy="20">enterOperation()</tspan><tspan x="6128" dy="20">leaveOperation()</tspan></text></g>

<g id="uprum"><rect class="r" x="5600" y="1955" width="256" height="260"/><text class="c" x="5728" y="1970">UniquePointer&lt; RawUserMemory</text><text class="c" x="5728" y="1984">::State &gt;</text><path class="r" d="M5600 1991h256M5600 2011h256"/>
<text><tspan x="5610" y="2026">+</tspan><tspan x="5610" dy="20">+</tspan><tspan x="5610" dy="20">+</tspan><tspan x="5610" dy="20">+</tspan><tspan x="5610" dy="20">+</tspan><tspan x="5610" dy="20">+</tspan><tspan x="5610" dy="20">+</tspan><tspan x="5610" dy="20">+</tspan><tspan x="5610" dy="20">-</tspan><tspan x="5610" dy="20">-</tspan></text>
<text><tspan x="5626" y="2026">UniquePointer()</tspan><tspan x="5626" dy="20">UniquePointer()</tspan><tspan x="5626" dy="20">~UniquePointer()</tspan><tspan x="5626" dy="20">NOT_COPYABLE_OR_ASSIGNABLE()</tspan><tspan x="5626" dy="20">operator=()</tspan><tspan x="5626" dy="20">releaseOwnership()</tspan><tspan x="5626" dy="20">adopt()</tspan><tspan x="5626" dy="20">allocate()</tspan><tspan x="5626" dy="20">UniquePointer()</tspan><tspan x="5626" dy="20">move_from()</tspan></text></g>

<g id="vas"><rect class="r" x="5880" y="1722" width="220" height="730"/><text class="c" x="5990" y="1738">VirtualAddressSpace</text><path class="r" d="M5880 1744h220M5880 2028h220"/>
<text><tspan x="5890" y="1759">+</tspan><tspan x="5890" dy="20">+</tspan><tspan x="5890" dy="20">+</tspan><tspan x="5890" dy="20">+</tspan><tspan x="5890" dy="20">+</tspan><tspan x="5890" dy="20">+</tspan><tspan x="5890" dy="20">+</tspan><tspan x="5890" dy="20">+</tspan><tspan x="5890" dy="20">+</tspan><tspan x="5890" dy="20">+</tspan><tspan x="5890" dy="20">+</tspan><tspan x="5890" dy="20">+</tspan><tspan x="5890" dy="20"> </tspan><tspan x="5890" dy="20">#</tspan></text>
<text><tspan x="5906" y="1759">m_Heap</tspan><tspan x="5906" dy="20">m_HeapEnd</tspan><tspan x="5906" dy="20">KernelMode</tspan><tspan x="5906" dy="20">Write</tspan><tspan x="5906" dy="20">Execute</tspan><tspan x="5906" dy="20">WriteThrough</tspan><tspan x="5906" dy="20">CacheDisable</tspan><tspan x="5906" dy="20">CopyOnWrite</tspan><tspan x="5906" dy="20">Swapped</tspan><tspan x="5906" dy="20">Shared</tspan><tspan x="5906" dy="20">WriteCombine</tspan><tspan x="5906" dy="20">Accessed</tspan><tspan x="5906" dy="20">and 8 more...</tspan><tspan x="5906" dy="20">m_HeapRegionId</tspan></text>
<text><tspan x="5890" y="2043">+</tspan><tspan x="5890" dy="20">+</tspan><tspan x="5890" dy="20">+</tspan><tspan x="5890" dy="20">+</tspan><tspan x="5890" dy="20">+</tspan><tspan x="5890" dy="20">+</tspan><tspan x="5890" dy="20">+</tspan><tspan x="5890" dy="20">+</tspan><tspan x="5890" dy="20">+</tspan><tspan x="5890" dy="20">+</tspan><tspan x="5890" dy="20"> </tspan><tspan x="5890" dy="20">+</tspan><tspan x="5890" dy="20">+</tspan><tspan x="5890" dy="20">#</tspan><tspan x="5890" dy="20">#</tspan><tspan x="5890" dy="20">#</tspan><tspan x="5890" dy="20">#</tspan><tspan x="5890" dy="20">-</tspan><tspan x="5890" dy="20">-</tspan><tspan x="5890" dy="20">-</tspan><tspan x="5890" dy="20">-</tspan></text>
<text><tspan x="5906" y="2043">rawUserMemory()</tspan><tspan x="5906" dy="20">runtimeMappingPages()</tspan><tspan x="5906" dy="20">memoryLockAccount()</tspan><tspan x="5906" dy="20">setMemoryLockAccount()</tspan><tspan x="5906" dy="20">userMemoryPolicy()</tspan><tspan x="5906" dy="20">setUserMemoryPolicy()</tspan><tspan x="5906" dy="20">expandHeap()</tspan><tspan x="5906" dy="20">isAddressValid()</tspan><tspan x="5906" dy="20">isMapped()</tspan><tspan x="5906" dy="20">map()</tspan><tspan x="5906" dy="20">and 43 more...</tspan><tspan x="5906" dy="20">getKernelAddressSpace()</tspan><tspan x="5906" dy="20">create()</tspan><tspan x="5906" dy="20">admitRawMemoryChange()</tspan><tspan x="5906" dy="20">commitRawMemoryChange()</tspan><tspan x="5906" dy="20">prepareZeroPage()</tspan><tspan x="5906" dy="20">VirtualAddressSpace()</tspan><tspan x="5906" dy="20">VirtualAddressSpace()</tspan><tspan x="5906" dy="20">VirtualAddressSpace()</tspan><tspan x="5906" dy="20">operator=()</tspan><tspan x="5906" dy="20">rollbackHeapExpansion()</tspan></text></g>

<g id="rawusermemory"><rect class="r" x="5763" y="2837" width="255" height="346"/><text class="c" x="5890" y="2853">RawUserMemory</text><path class="r" d="M5763 2859h255M5763 2879h255"/>
<text><tspan x="5773" y="2894">+</tspan><tspan x="5773" dy="20">+</tspan><tspan x="5773" dy="20">+</tspan><tspan x="5773" dy="20">+</tspan><tspan x="5773" dy="20">+</tspan><tspan x="5773" dy="20">+</tspan><tspan x="5773" dy="20">+</tspan><tspan x="5773" dy="20">+</tspan><tspan x="5773" dy="20">+</tspan><tspan x="5773" dy="20">+</tspan><tspan x="5773" dy="20">+</tspan><tspan x="5773" dy="20">+</tspan><tspan x="5773" dy="20">+</tspan><tspan x="5773" dy="20">+</tspan><tspan x="5773" dy="20">-</tspan></text>
<text><tspan x="5789" y="2894">RawUserMemory()</tspan><tspan x="5789" dy="20">~RawUserMemory()</tspan><tspan x="5789" dy="20">nextRegionId()</tspan><tspan x="5789" dy="20">completeInventory()</tspan><tspan x="5789" dy="20">setCompleteInventory()</tspan><tspan x="5789" dy="20">covers()</tspan><tspan x="5789" dy="20">hasLockedMemory()</tspan><tspan x="5789" dy="20">prepareChange()</tspan><tspan x="5789" dy="20">prepareLocks()</tspan><tspan x="5789" dy="20">prepareAllLocks()</tspan><tspan x="5789" dy="20">prepareReplacement()</tspan><tspan x="5789" dy="20">cloneInto()</tspan><tspan x="5789" dy="20">retireRegion()</tspan><tspan x="5789" dy="20">clear()</tspan><tspan x="5789" dy="20">NOT_COPYABLE_OR_ASSIGNABLE()</tspan></text></g>
</svg>
